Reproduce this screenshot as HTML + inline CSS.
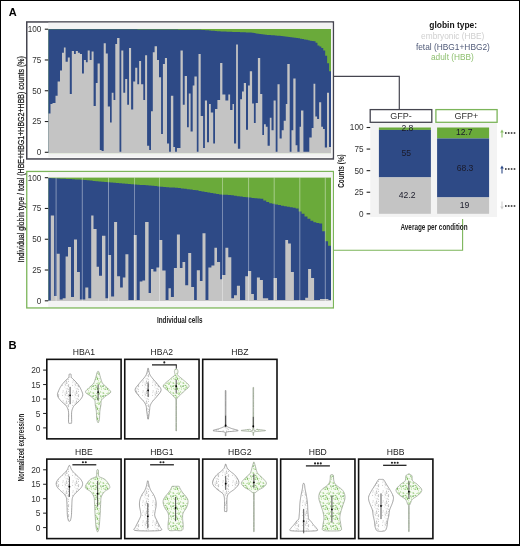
<!DOCTYPE html>
<html><head><meta charset="utf-8"><style>
html,body{margin:0;padding:0;background:#fff;}
body{width:520px;height:546px;overflow:hidden;position:relative;}
svg{position:absolute;left:0;top:0;font-family:"Liberation Sans",sans-serif;-webkit-font-smoothing:antialiased;will-change:transform;filter:blur(0.35px);}
.bd{position:absolute;left:0;top:0;width:520px;height:546px;box-sizing:border-box;border-style:solid;border-color:#000;border-width:1.3px 1.8px 2px 1.2px;pointer-events:none;}
</style></head><body>
<svg width="520" height="546" viewBox="0 0 520 546">
<defs><pattern id="pg" width="10" height="10" patternUnits="userSpaceOnUse"><circle cx="2.6" cy="5.4" r="0.55" fill="#d0d0d0"/><circle cx="8.7" cy="4.8" r="0.55" fill="#b0b0b0"/><circle cx="6.0" cy="8.7" r="0.55" fill="#d8d8d8"/><circle cx="2.8" cy="2.6" r="0.55" fill="#d8d8d8"/><circle cx="5.4" cy="5.4" r="0.55" fill="#d8d8d8"/><circle cx="6.3" cy="1.9" r="0.55" fill="#c4c4c4"/><circle cx="8.3" cy="5.2" r="0.55" fill="#b0b0b0"/><circle cx="6.5" cy="1.1" r="0.55" fill="#b0b0b0"/><circle cx="3.2" cy="0.8" r="0.55" fill="#d0d0d0"/><circle cx="4.8" cy="7.0" r="0.55" fill="#d8d8d8"/><circle cx="6.9" cy="8.8" r="0.55" fill="#d8d8d8"/><circle cx="7.1" cy="5.7" r="0.55" fill="#c4c4c4"/><circle cx="8.4" cy="1.4" r="0.55" fill="#c4c4c4"/><circle cx="5.0" cy="2.8" r="0.55" fill="#d8d8d8"/><circle cx="7.5" cy="8.2" r="0.55" fill="#d8d8d8"/><circle cx="5.1" cy="4.0" r="0.55" fill="#d0d0d0"/><circle cx="5.3" cy="4.2" r="0.55" fill="#c4c4c4"/><circle cx="8.6" cy="6.6" r="0.55" fill="#b0b0b0"/><circle cx="8.2" cy="9.4" r="0.55" fill="#c4c4c4"/><circle cx="6.8" cy="3.4" r="0.55" fill="#b0b0b0"/><circle cx="6.9" cy="2.4" r="0.55" fill="#d0d0d0"/><circle cx="3.1" cy="1.1" r="0.55" fill="#d8d8d8"/></pattern><pattern id="pn" width="10" height="10" patternUnits="userSpaceOnUse"><circle cx="1.3" cy="7.7" r="0.55" fill="#a8d68c"/><circle cx="8.6" cy="0.7" r="0.55" fill="#a8d68c"/><circle cx="7.4" cy="8.4" r="0.55" fill="#6cb548"/><circle cx="5.9" cy="7.4" r="0.55" fill="#a8d68c"/><circle cx="7.0" cy="3.5" r="0.55" fill="#8cc86a"/><circle cx="5.0" cy="9.5" r="0.55" fill="#8cc86a"/><circle cx="0.6" cy="1.5" r="0.55" fill="#b5dd9c"/><circle cx="0.8" cy="2.3" r="0.55" fill="#a8d68c"/><circle cx="3.1" cy="2.9" r="0.55" fill="#6cb548"/><circle cx="9.3" cy="3.6" r="0.55" fill="#8cc86a"/><circle cx="9.1" cy="8.6" r="0.55" fill="#a8d68c"/><circle cx="3.9" cy="8.3" r="0.55" fill="#a8d68c"/><circle cx="6.3" cy="5.9" r="0.55" fill="#b5dd9c"/><circle cx="1.4" cy="9.3" r="0.55" fill="#b5dd9c"/><circle cx="2.9" cy="6.2" r="0.55" fill="#4d9a35"/><circle cx="8.9" cy="4.4" r="0.55" fill="#8cc86a"/><circle cx="5.2" cy="5.4" r="0.55" fill="#6cb548"/><circle cx="7.6" cy="9.4" r="0.55" fill="#8cc86a"/><circle cx="0.7" cy="6.0" r="0.55" fill="#4d9a35"/><circle cx="1.0" cy="6.1" r="0.55" fill="#a8d68c"/><circle cx="3.7" cy="8.8" r="0.55" fill="#b5dd9c"/><circle cx="6.9" cy="7.1" r="0.55" fill="#6cb548"/><circle cx="5.8" cy="9.1" r="0.55" fill="#6cb548"/><circle cx="9.2" cy="2.8" r="0.55" fill="#a8d68c"/><circle cx="3.2" cy="5.9" r="0.55" fill="#4d9a35"/><circle cx="3.8" cy="3.3" r="0.55" fill="#8cc86a"/><circle cx="8.1" cy="2.9" r="0.55" fill="#a8d68c"/><circle cx="1.4" cy="7.8" r="0.55" fill="#b5dd9c"/></pattern></defs>
<text x="8.8" y="15.8" font-size="11" text-anchor="start" fill="#000" font-weight="bold" >A</text>
<rect x="26.75" y="21.95" width="306.6" height="137" fill="#fff" stroke="#45454f" stroke-width="1.5"/>
<rect x="48.3" y="22.7" width="284.2" height="134.8" fill="#f3f3f3"/>
<rect x="48.4" y="29.0" width="282.60" height="124.10" fill="#6aaa3a"/>
<polygon points="48.4,153.1 48.40,29.20 50.34,29.20 50.34,29.21 52.27,29.21 52.27,29.21 54.21,29.21 54.21,29.21 56.14,29.21 56.14,29.22 58.08,29.22 58.08,29.22 60.01,29.22 60.01,29.22 61.95,29.22 61.95,29.23 63.88,29.23 63.88,29.23 65.82,29.23 65.82,29.24 67.76,29.24 67.76,29.24 69.69,29.24 69.69,29.24 71.63,29.24 71.63,29.25 73.56,29.25 73.56,29.25 75.50,29.25 75.50,29.26 77.43,29.26 77.43,29.26 79.37,29.26 79.37,29.26 81.31,29.26 81.31,29.27 83.24,29.27 83.24,29.27 85.18,29.27 85.18,29.27 87.11,29.27 87.11,29.28 89.05,29.28 89.05,29.28 90.98,29.28 90.98,29.29 92.92,29.29 92.92,29.29 94.85,29.29 94.85,29.29 96.79,29.29 96.79,29.30 98.73,29.30 98.73,29.30 100.66,29.30 100.66,29.30 102.60,29.30 102.60,29.31 104.53,29.31 104.53,29.31 106.47,29.31 106.47,29.32 108.40,29.32 108.40,29.32 110.34,29.32 110.34,29.32 112.28,29.32 112.28,29.33 114.21,29.33 114.21,29.33 116.15,29.33 116.15,29.34 118.08,29.34 118.08,29.34 120.02,29.34 120.02,29.34 121.95,29.34 121.95,29.35 123.89,29.35 123.89,29.35 125.82,29.35 125.82,29.35 127.76,29.35 127.76,29.36 129.70,29.36 129.70,29.36 131.63,29.36 131.63,29.37 133.57,29.37 133.57,29.37 135.50,29.37 135.50,29.37 137.44,29.37 137.44,29.38 139.37,29.38 139.37,29.38 141.31,29.38 141.31,29.38 143.25,29.38 143.25,29.39 145.18,29.39 145.18,29.39 147.12,29.39 147.12,29.40 149.05,29.40 149.05,29.40 150.99,29.40 150.99,29.42 152.92,29.42 152.92,29.43 154.86,29.43 154.86,29.45 156.79,29.45 156.79,29.46 158.73,29.46 158.73,29.48 160.67,29.48 160.67,29.49 162.60,29.49 162.60,29.51 164.54,29.51 164.54,29.52 166.47,29.52 166.47,29.54 168.41,29.54 168.41,29.56 170.34,29.56 170.34,29.57 172.28,29.57 172.28,29.59 174.22,29.59 174.22,29.60 176.15,29.60 176.15,29.62 178.09,29.62 178.09,29.63 180.02,29.63 180.02,29.65 181.96,29.65 181.96,29.66 183.89,29.66 183.89,29.68 185.83,29.68 185.83,29.69 187.76,29.69 187.76,29.71 189.70,29.71 189.70,29.73 191.64,29.73 191.64,29.74 193.57,29.74 193.57,29.76 195.51,29.76 195.51,29.77 197.44,29.77 197.44,29.79 199.38,29.79 199.38,29.82 201.31,29.82 201.31,29.93 203.25,29.93 203.25,30.04 205.18,30.04 205.18,30.15 207.12,30.15 207.12,30.30 209.06,30.30 209.06,30.48 210.99,30.48 210.99,30.66 212.93,30.66 212.93,30.84 214.86,30.84 214.86,31.02 216.80,31.02 216.80,31.19 218.73,31.19 218.73,31.37 220.67,31.37 220.67,31.46 222.61,31.46 222.61,31.53 224.54,31.53 224.54,31.60 226.48,31.60 226.48,31.67 228.41,31.67 228.41,31.74 230.35,31.74 230.35,31.81 232.28,31.81 232.28,31.89 234.22,31.89 234.22,31.96 236.15,31.96 236.15,32.03 238.09,32.03 238.09,32.10 240.03,32.10 240.03,32.17 241.96,32.17 241.96,32.24 243.90,32.24 243.90,32.31 245.83,32.31 245.83,32.38 247.77,32.38 247.77,32.45 249.70,32.45 249.70,32.59 251.64,32.59 251.64,32.86 253.58,32.86 253.58,33.12 255.51,33.12 255.51,33.38 257.45,33.38 257.45,33.65 259.38,33.65 259.38,33.91 261.32,33.91 261.32,34.18 263.25,34.18 263.25,34.44 265.19,34.44 265.19,34.70 267.12,34.70 267.12,34.94 269.06,34.94 269.06,35.07 271.00,35.07 271.00,35.21 272.93,35.21 272.93,35.35 274.87,35.35 274.87,35.49 276.80,35.49 276.80,35.68 278.74,35.68 278.74,35.87 280.67,35.87 280.67,36.06 282.61,36.06 282.61,36.26 284.55,36.26 284.55,36.45 286.48,36.45 286.48,36.64 288.42,36.64 288.42,36.91 290.35,36.91 290.35,37.20 292.29,37.20 292.29,37.49 294.22,37.49 294.22,37.78 296.16,37.78 296.16,38.07 298.09,38.07 298.09,38.36 300.03,38.36 300.03,38.70 301.97,38.70 301.97,39.09 303.90,39.09 303.90,39.47 305.84,39.47 305.84,39.86 307.77,39.86 307.77,40.25 309.71,40.25 309.71,40.64 311.64,40.64 311.64,40.99 313.58,40.99 313.58,41.28 315.52,41.28 315.52,42.63 317.45,42.63 317.45,45.49 319.39,45.49 319.39,46.51 321.32,46.51 321.32,47.91 323.26,47.91 323.26,50.44 325.19,50.44 325.19,55.72 327.13,55.72 327.13,63.29 329.06,63.29 329.06,71.35 331.00,71.35 331.0,153.1" fill="#2e4a86"/>
<polygon points="48.4,153.1 48.40,113.60 50.50,113.60 50.50,104.10 52.50,104.10 52.50,102.90 55.50,102.90 55.50,95.80 57.60,95.80 57.60,81.40 60.00,81.40 60.00,70.60 62.00,70.60 62.00,52.80 63.90,52.80 63.90,47.40 65.60,47.40 65.60,61.70 67.80,61.70 67.80,57.50 69.80,57.50 69.80,94.00 71.80,94.00 71.80,51.00 74.00,51.00 74.00,54.00 75.80,54.00 75.80,51.00 77.90,51.00 77.90,52.80 79.90,52.80 79.90,54.00 82.00,54.00 82.00,73.60 83.90,73.60 83.90,59.90 85.90,59.90 85.90,62.30 87.70,62.30 87.70,50.40 89.70,50.40 89.70,59.90 91.60,59.90 91.60,51.60 93.60,51.60 93.60,105.90 95.80,105.90 95.80,83.10 97.60,83.10 97.60,63.50 99.80,63.50 99.80,150.00 101.60,150.00 101.60,151.00 103.70,151.00 103.70,43.30 105.80,43.30 105.80,53.40 107.80,53.40 107.80,106.50 110.00,106.50 110.00,122.50 111.70,122.50 111.70,92.80 113.50,92.80 113.50,99.90 115.30,99.90 115.30,43.90 117.10,43.90 117.10,37.90 119.50,37.90 119.50,151.70 121.30,151.70 121.30,50.40 123.30,50.40 123.30,92.80 125.20,92.80 125.20,79.00 127.20,79.00 127.20,104.70 129.00,104.70 129.00,48.00 131.10,48.00 131.10,109.50 133.20,109.50 133.20,81.40 135.20,81.40 135.20,67.70 137.30,67.70 137.30,84.30 139.10,84.30 139.10,61.10 141.10,61.10 141.10,84.30 143.30,84.30 143.30,99.90 145.10,99.90 145.10,55.20 147.10,55.20 147.10,145.80 149.20,145.80 149.20,149.90 151.00,149.90 151.00,111.20 152.80,111.20 152.80,52.20 154.60,52.20 154.60,46.20 157.00,46.20 157.00,59.90 159.00,59.90 159.00,77.20 161.10,77.20 161.10,133.90 162.90,133.90 162.90,64.10 164.90,64.10 164.90,58.10 167.00,58.10 167.00,143.40 169.10,143.40 169.10,151.70 170.90,151.70 170.90,95.80 173.30,95.80 173.30,147.00 175.10,147.00 175.10,151.70 176.90,151.70 176.90,148.00 178.70,148.00 178.70,148.00 180.50,148.00 180.50,50.40 182.80,50.40 182.80,104.70 184.70,104.70 184.70,76.00 187.00,76.00 187.00,127.30 188.80,127.30 188.80,93.40 190.60,93.40 190.60,131.50 192.70,131.50 192.70,85.50 194.40,85.50 194.40,76.60 196.80,76.60 196.80,151.70 198.50,151.70 198.50,54.00 200.70,54.00 200.70,116.00 203.10,116.00 203.10,148.10 204.90,148.10 204.90,100.50 207.00,100.50 207.00,142.20 209.00,142.20 209.00,104.10 210.80,104.10 210.80,112.40 213.20,112.40 213.20,143.40 215.00,143.40 215.00,108.90 217.40,108.90 217.40,100.00 220.10,100.00 220.10,62.90 222.40,62.90 222.40,94.60 225.40,94.60 225.40,100.50 228.30,100.50 228.30,94.60 230.10,94.60 230.10,110.00 232.50,110.00 232.50,104.10 234.00,104.10 234.00,143.40 236.10,143.40 236.10,44.50 237.90,44.50 237.90,148.70 240.20,148.70 240.20,99.30 242.00,99.30 242.00,91.60 243.80,91.60 243.80,83.10 246.00,83.10 246.00,129.70 248.00,129.70 248.00,85.50 249.80,85.50 249.80,71.20 252.10,71.20 252.10,103.50 253.90,103.50 253.90,123.10 255.70,123.10 255.70,102.90 257.90,102.90 257.90,58.10 260.20,58.10 260.20,94.00 262.30,94.00 262.30,135.00 264.00,135.00 264.00,124.30 265.80,124.30 265.80,126.70 267.60,126.70 267.60,145.80 269.80,145.80 269.80,117.80 271.50,117.80 271.50,130.30 273.60,130.30 273.60,100.50 275.70,100.50 275.70,151.70 277.50,151.70 277.50,84.30 279.60,84.30 279.60,138.60 281.70,138.60 281.70,130.30 283.70,130.30 283.70,120.80 285.80,120.80 285.80,104.10 287.30,104.10 287.30,64.10 289.70,64.10 289.70,151.70 291.50,151.70 291.50,130.30 293.30,130.30 293.30,78.40 295.60,78.40 295.60,145.20 297.40,145.20 297.40,151.70 299.60,151.70 299.60,126.70 301.00,126.70 301.00,110.60 303.40,110.60 303.40,151.70 309.30,151.70 309.30,137.40 311.70,137.40 311.70,127.90 313.50,127.90 313.50,83.70 315.30,83.70 315.30,116.60 317.10,116.60 317.10,119.00 319.10,119.00 319.10,102.30 321.20,102.30 321.20,126.70 323.00,126.70 323.00,129.10 324.80,129.10 324.80,147.50 327.00,147.50 327.00,92.80 329.00,92.80 329.00,147.00 331.00,147.00 331.0,153.1" fill="#c4c4c4"/>
<rect x="26.75" y="171.45" width="306.6" height="136.5" fill="#fff" stroke="#7cb55a" stroke-width="1.3"/>
<rect x="48.3" y="172.2" width="284.2" height="134.8" fill="#f3f3f3"/>
<rect x="48.4" y="177.6" width="282.60" height="123.40" fill="#6aaa3a"/>
<polygon points="48.4,301.0 48.40,178.07 51.34,178.07 51.34,178.22 54.29,178.22 54.29,178.37 57.23,178.37 57.23,178.52 60.18,178.52 60.17,178.67 63.12,178.67 63.12,178.82 66.06,178.82 66.06,178.97 69.01,178.97 69.01,179.12 71.95,179.12 71.95,179.27 74.89,179.27 74.89,179.42 77.84,179.42 77.84,179.57 80.78,179.57 80.78,179.73 83.72,179.73 83.72,180.02 86.67,180.02 86.67,180.31 89.61,180.31 89.61,180.61 92.56,180.61 92.56,180.90 95.50,180.90 95.50,181.20 98.44,181.20 98.44,181.49 101.39,181.49 101.39,181.79 104.33,181.79 104.33,182.08 107.27,182.08 107.28,182.32 110.22,182.32 110.22,182.57 113.16,182.57 113.16,182.81 116.11,182.81 116.11,183.05 119.05,183.05 119.05,183.29 121.99,183.29 121.99,183.53 124.94,183.53 124.94,183.77 127.88,183.77 127.88,184.00 130.82,184.00 130.82,184.22 133.77,184.22 133.77,184.44 136.71,184.44 136.71,184.66 139.66,184.66 139.66,184.88 142.60,184.88 142.60,185.11 145.54,185.11 145.54,185.33 148.49,185.33 148.49,185.55 151.43,185.55 151.43,185.79 154.38,185.79 154.38,186.08 157.32,186.08 157.32,186.38 160.26,186.38 160.26,186.67 163.21,186.67 163.21,186.95 166.15,186.95 166.15,187.17 169.09,187.17 169.09,187.39 172.04,187.39 172.04,187.61 174.98,187.61 174.98,187.83 177.92,187.83 177.93,188.05 180.87,188.05 180.87,188.41 183.81,188.41 183.81,188.80 186.76,188.80 186.76,189.20 189.70,189.20 189.70,189.59 192.64,189.59 192.64,189.98 195.59,189.98 195.59,190.37 198.53,190.37 198.53,190.88 201.47,190.88 201.48,191.45 204.42,191.45 204.42,192.01 207.36,192.01 207.36,192.58 210.31,192.58 210.31,193.07 213.25,193.07 213.25,193.51 216.19,193.51 216.19,193.95 219.14,193.95 219.14,194.39 222.08,194.39 222.08,194.69 225.03,194.69 225.03,194.87 227.97,194.87 227.97,195.05 230.91,195.05 230.91,195.26 233.86,195.26 233.86,195.70 236.80,195.70 236.80,196.14 239.74,196.14 239.74,196.58 242.69,196.58 242.69,197.02 245.63,197.02 245.63,197.31 248.58,197.31 248.58,197.60 251.52,197.60 251.52,197.90 254.46,197.90 254.46,198.19 257.41,198.19 257.41,198.49 260.35,198.49 260.35,198.78 263.29,198.78 263.29,200.46 266.24,200.46 266.24,201.90 269.18,201.90 269.18,203.14 272.12,203.14 272.12,203.79 275.07,203.79 275.07,204.45 278.01,204.45 278.01,205.11 280.96,205.11 280.96,205.77 283.90,205.77 283.90,206.31 286.84,206.31 286.84,206.81 289.79,206.81 289.79,207.32 292.73,207.32 292.73,207.82 295.68,207.82 295.68,208.45 298.62,208.45 298.62,211.38 301.56,211.38 301.56,213.83 304.51,213.83 304.51,216.40 307.45,216.40 307.45,218.65 310.39,218.65 310.39,220.71 313.34,220.71 313.34,222.24 316.28,222.24 316.28,223.02 319.23,223.02 319.22,223.56 322.17,223.56 322.17,231.14 325.11,231.14 325.11,241.25 328.06,241.25 328.06,245.66 331.00,245.66 331.0,301.0" fill="#2e4a86"/>
<polygon points="48.4,301.0 48.40,300.50 50.80,300.50 50.80,215.50 54.10,215.50 54.10,295.90 56.70,295.90 56.70,253.70 59.70,253.70 59.70,299.50 62.70,299.50 62.70,298.30 65.60,298.30 65.60,256.60 68.00,256.60 68.00,247.10 71.00,247.10 71.00,297.10 74.00,297.10 74.00,239.40 77.00,239.40 77.00,272.10 79.90,272.10 79.90,299.50 82.30,299.50 82.30,299.50 85.30,299.50 85.30,287.60 88.30,287.60 88.30,298.30 91.20,298.30 91.20,215.50 93.50,215.50 93.50,229.10 96.60,229.10 96.60,266.80 99.00,266.80 99.00,275.70 102.00,275.70 102.00,235.80 105.40,235.80 105.40,298.30 108.20,298.30 108.20,254.90 111.10,254.90 111.10,296.50 114.10,296.50 114.10,222.00 117.10,222.00 117.10,276.30 120.10,276.30 120.10,287.60 122.80,287.60 122.80,277.50 125.40,277.50 125.40,254.30 128.40,254.30 128.40,300.00 133.80,300.00 133.80,235.00 136.70,235.00 136.70,300.00 139.70,300.00 139.70,281.60 142.40,281.60 142.40,280.40 145.10,280.40 145.10,222.00 148.60,222.00 148.60,293.00 151.00,293.00 151.00,269.10 153.40,269.10 153.40,271.50 156.40,271.50 156.40,267.40 159.40,267.40 159.40,240.00 162.30,240.00 162.30,270.50 165.60,270.50 165.60,300.00 168.50,300.00 168.50,288.20 170.90,288.20 170.90,297.10 173.90,297.10 173.90,268.00 176.90,268.00 176.90,234.50 179.90,234.50 179.90,268.00 182.50,268.00 182.50,262.00 185.20,262.00 185.20,285.20 188.20,285.20 188.20,253.10 191.20,253.10 191.20,287.00 194.10,287.00 194.10,300.00 196.80,300.00 196.80,270.30 199.90,270.30 199.90,281.00 202.50,281.00 202.50,233.30 205.50,233.30 205.50,300.00 208.40,300.00 208.40,267.40 211.40,267.40 211.40,265.60 214.40,265.60 214.40,247.70 217.00,247.70 217.00,262.00 220.10,262.00 220.10,279.30 222.10,279.30 222.10,275.10 225.40,275.10 225.40,247.70 228.30,247.70 228.30,257.20 231.30,257.20 231.30,298.30 234.00,298.30 234.00,295.30 236.90,295.30 236.90,285.80 240.00,285.80 240.00,300.00 245.20,300.00 245.20,276.30 248.00,276.30 248.00,270.90 251.20,270.90 251.20,294.10 253.90,294.10 253.90,300.00 256.90,300.00 256.90,277.50 259.90,277.50 259.90,279.90 262.90,279.90 262.90,298.30 265.80,298.30 265.80,298.30 268.20,298.30 268.20,300.00 273.60,300.00 273.60,278.10 277.00,278.10 277.00,300.00 285.30,300.00 285.30,240.00 288.10,240.00 288.10,243.50 290.90,243.50 290.90,272.10 293.90,272.10 293.90,300.00 305.20,300.00 305.20,297.70 308.10,297.70 308.10,269.10 311.10,269.10 311.10,278.00 314.10,278.00 314.10,300.00 320.00,300.00 320.00,298.90 323.00,298.90 323.00,298.90 326.00,298.90 326.00,298.90 328.40,298.90 328.40,300.00 331.00,300.00 331.0,301.0" fill="#c4c4c4"/>
<line x1="56.1" y1="177.6" x2="56.1" y2="301.0" stroke="#fff" stroke-width="0.8" opacity="0.5"/>
<line x1="82.3" y1="177.6" x2="82.3" y2="301.0" stroke="#fff" stroke-width="0.8" opacity="0.5"/>
<line x1="108.5" y1="177.6" x2="108.5" y2="301.0" stroke="#fff" stroke-width="0.8" opacity="0.5"/>
<line x1="134.4" y1="177.6" x2="134.4" y2="301.0" stroke="#fff" stroke-width="0.8" opacity="0.5"/>
<line x1="159.4" y1="177.6" x2="159.4" y2="301.0" stroke="#fff" stroke-width="0.8" opacity="0.5"/>
<line x1="222.4" y1="177.6" x2="222.4" y2="301.0" stroke="#fff" stroke-width="0.8" opacity="0.5"/>
<line x1="248.6" y1="177.6" x2="248.6" y2="301.0" stroke="#fff" stroke-width="0.8" opacity="0.5"/>
<line x1="274.2" y1="177.6" x2="274.2" y2="301.0" stroke="#fff" stroke-width="0.8" opacity="0.5"/>
<line x1="299.8" y1="177.6" x2="299.8" y2="301.0" stroke="#fff" stroke-width="0.8" opacity="0.5"/>
<line x1="325.3" y1="177.6" x2="325.3" y2="301.0" stroke="#fff" stroke-width="0.8" opacity="0.5"/>
<text x="41.3" y="155.20000000000002" font-size="8.2" text-anchor="end" fill="#333" font-weight="normal" >0</text>
<line x1="44.8" y1="152.30" x2="48.2" y2="152.30" stroke="#222" stroke-width="1.1"/>
<text x="41.3" y="124.42500000000001" font-size="8.2" text-anchor="end" fill="#333" font-weight="normal" >25</text>
<line x1="44.8" y1="121.53" x2="48.2" y2="121.53" stroke="#222" stroke-width="1.1"/>
<text x="41.3" y="93.65" font-size="8.2" text-anchor="end" fill="#333" font-weight="normal" >50</text>
<line x1="44.8" y1="90.75" x2="48.2" y2="90.75" stroke="#222" stroke-width="1.1"/>
<text x="41.3" y="62.87500000000001" font-size="8.2" text-anchor="end" fill="#333" font-weight="normal" >75</text>
<line x1="44.8" y1="59.98" x2="48.2" y2="59.98" stroke="#222" stroke-width="1.1"/>
<text x="41.3" y="32.1" font-size="8.2" text-anchor="end" fill="#333" font-weight="normal" >100</text>
<line x1="44.8" y1="29.20" x2="48.2" y2="29.20" stroke="#222" stroke-width="1.1"/>
<text x="41.3" y="303.7" font-size="8.2" text-anchor="end" fill="#333" font-weight="normal" >0</text>
<line x1="44.8" y1="300.80" x2="48.2" y2="300.80" stroke="#222" stroke-width="1.1"/>
<text x="41.3" y="272.92499999999995" font-size="8.2" text-anchor="end" fill="#333" font-weight="normal" >25</text>
<line x1="44.8" y1="270.02" x2="48.2" y2="270.02" stroke="#222" stroke-width="1.1"/>
<text x="41.3" y="242.15" font-size="8.2" text-anchor="end" fill="#333" font-weight="normal" >50</text>
<line x1="44.8" y1="239.25" x2="48.2" y2="239.25" stroke="#222" stroke-width="1.1"/>
<text x="41.3" y="211.375" font-size="8.2" text-anchor="end" fill="#333" font-weight="normal" >75</text>
<line x1="44.8" y1="208.47" x2="48.2" y2="208.47" stroke="#222" stroke-width="1.1"/>
<text x="41.3" y="180.6" font-size="8.2" text-anchor="end" fill="#333" font-weight="normal" >100</text>
<line x1="44.8" y1="177.70" x2="48.2" y2="177.70" stroke="#222" stroke-width="1.1"/>
<text transform="translate(23.5,159.3) rotate(-90) scale(0.80,1)" font-size="8.8" text-anchor="middle" fill="#1a1a1a" stroke="#1a1a1a" stroke-width="0.25">Individual globin type / total (HBE+HBG1+HBG2+HBB) counts (%)</text>
<text transform="translate(179.7,322.9) scale(0.69,1)" font-size="9.2" text-anchor="middle" fill="#222" font-weight="bold" >Individual cells</text>
<polyline points="333.5,76.3 399.3,76.3 399.3,109.5" fill="none" stroke="#45454f" stroke-width="1.2"/>
<polyline points="333.5,250.3 462.6,250.3 462.6,219" fill="none" stroke="#7cb55a" stroke-width="1.1"/>
<text x="453.2" y="28.4" font-size="8.45" text-anchor="middle" fill="#111" font-weight="bold" >globin type:</text>
<text x="452.7" y="39.1" font-size="8.3" text-anchor="middle" fill="#cfcfcf" font-weight="normal" >embryonic (HBE)</text>
<text x="452.9" y="49.7" font-size="8.35" text-anchor="middle" fill="#505a78" font-weight="normal" >fetal (HBG1+HBG2)</text>
<text x="452.4" y="60.1" font-size="8.3" text-anchor="middle" fill="#8fc070" font-weight="normal" >adult (HBB)</text>
<rect x="370.3" y="123" width="126.7" height="94" fill="#f3f3f3"/>
<rect x="370.2" y="109.6" width="61.6" height="12.7" fill="#fff" stroke="#45454f" stroke-width="1.3"/>
<rect x="435.9" y="109.6" width="61.2" height="12.7" fill="#fff" stroke="#7cb55a" stroke-width="1.3"/>
<text x="401" y="119.3" font-size="9" text-anchor="middle" fill="#333" font-weight="normal" >GFP-</text>
<text x="466.5" y="119.3" font-size="9" text-anchor="middle" fill="#333" font-weight="normal" >GFP+</text>
<rect x="378.9" y="127.50" width="52" height="2.42" fill="#6aaa3a"/>
<rect x="378.9" y="129.92" width="52" height="47.47" fill="#2e4a86"/>
<rect x="378.9" y="177.38" width="52" height="36.42" fill="#c4c4c4"/>
<rect x="437.1" y="127.50" width="52" height="10.96" fill="#6aaa3a"/>
<rect x="437.1" y="138.46" width="52" height="58.94" fill="#2e4a86"/>
<rect x="437.1" y="197.40" width="52" height="16.40" fill="#c4c4c4"/>
<text x="407.4" y="130.8" font-size="8.6" text-anchor="middle" fill="#1a1a2a" font-weight="normal" >2.8</text>
<text x="406.3" y="156.2" font-size="8.6" text-anchor="middle" fill="#1a1a2a" font-weight="normal" >55</text>
<text x="407.2" y="198.4" font-size="8.6" text-anchor="middle" fill="#1a1a2a" font-weight="normal" >42.2</text>
<text x="464.3" y="135.2" font-size="8.6" text-anchor="middle" fill="#1a1a2a" font-weight="normal" >12.7</text>
<text x="465" y="170.5" font-size="8.6" text-anchor="middle" fill="#1a1a2a" font-weight="normal" >68.3</text>
<text x="464.5" y="208.4" font-size="8.6" text-anchor="middle" fill="#1a1a2a" font-weight="normal" >19</text>
<text x="363.5" y="216.70000000000002" font-size="8.2" text-anchor="end" fill="#333" font-weight="normal" >0</text>
<line x1="366.6" y1="213.80" x2="370.2" y2="213.80" stroke="#222" stroke-width="1.1"/>
<text x="363.5" y="195.12500000000003" font-size="8.2" text-anchor="end" fill="#333" font-weight="normal" >25</text>
<line x1="366.6" y1="192.23" x2="370.2" y2="192.23" stroke="#222" stroke-width="1.1"/>
<text x="363.5" y="173.55" font-size="8.2" text-anchor="end" fill="#333" font-weight="normal" >50</text>
<line x1="366.6" y1="170.65" x2="370.2" y2="170.65" stroke="#222" stroke-width="1.1"/>
<text x="363.5" y="151.975" font-size="8.2" text-anchor="end" fill="#333" font-weight="normal" >75</text>
<line x1="366.6" y1="149.07" x2="370.2" y2="149.07" stroke="#222" stroke-width="1.1"/>
<text x="363.5" y="130.4" font-size="8.2" text-anchor="end" fill="#333" font-weight="normal" >100</text>
<line x1="366.6" y1="127.50" x2="370.2" y2="127.50" stroke="#222" stroke-width="1.1"/>
<text transform="translate(344,171) rotate(-90) scale(0.72,1)" font-size="8.8" font-weight="bold" text-anchor="middle" fill="#222">Counts (%)</text>
<text transform="translate(434,230.4) scale(0.71,1)" font-size="9" text-anchor="middle" fill="#222" font-weight="bold" >Average per condition</text>
<path d="M502,137.5 L502,131.5" stroke="#8cbf6a" stroke-width="1.1"/><path d="M500.2,132.5 L502,129.5 L503.8,132.5Z" fill="#8cbf6a"/>
<line x1="505" y1="133" x2="516.5" y2="133" stroke="#222" stroke-width="1.3" stroke-dasharray="1.6,1.3"/>
<path d="M502,173.5 L502,167.5" stroke="#2e4a86" stroke-width="1.1"/><path d="M500.2,168.5 L502,165.5 L503.8,168.5Z" fill="#2e4a86"/>
<line x1="505" y1="169" x2="516.5" y2="169" stroke="#222" stroke-width="1.3" stroke-dasharray="1.6,1.3"/>
<path d="M502,201.5 L502,207.5" stroke="#cfcfcf" stroke-width="1.1"/><path d="M500.2,206.5 L502,209.5 L503.8,206.5Z" fill="#cfcfcf"/>
<line x1="505" y1="206" x2="516.5" y2="206" stroke="#222" stroke-width="1.3" stroke-dasharray="1.6,1.3"/>
<text x="8.4" y="348.9" font-size="11.2" text-anchor="start" fill="#000" font-weight="bold" >B</text>
<rect x="46.80" y="359.35" width="74.3" height="79.50" fill="#fff" stroke="#111" stroke-width="1.6"/>
<text x="83.9" y="355.1" font-size="8.6" text-anchor="middle" fill="#222" font-weight="normal" >HBA1</text>
<rect x="124.75" y="359.35" width="74.3" height="79.50" fill="#fff" stroke="#111" stroke-width="1.6"/>
<text x="161.85" y="355.1" font-size="8.6" text-anchor="middle" fill="#222" font-weight="normal" >HBA2</text>
<rect x="202.70" y="359.35" width="74.3" height="79.50" fill="#fff" stroke="#111" stroke-width="1.6"/>
<text x="239.8" y="355.1" font-size="8.6" text-anchor="middle" fill="#222" font-weight="normal" >HBZ</text>
<rect x="46.80" y="459.1" width="74.3" height="79.50" fill="#fff" stroke="#111" stroke-width="1.6"/>
<text x="83.9" y="455.2" font-size="8.6" text-anchor="middle" fill="#222" font-weight="normal" >HBE</text>
<rect x="124.75" y="459.1" width="74.3" height="79.50" fill="#fff" stroke="#111" stroke-width="1.6"/>
<text x="161.85" y="455.2" font-size="8.6" text-anchor="middle" fill="#222" font-weight="normal" >HBG1</text>
<rect x="202.70" y="459.1" width="74.3" height="79.50" fill="#fff" stroke="#111" stroke-width="1.6"/>
<text x="239.8" y="455.2" font-size="8.6" text-anchor="middle" fill="#222" font-weight="normal" >HBG2</text>
<rect x="280.65" y="459.1" width="74.3" height="79.50" fill="#fff" stroke="#111" stroke-width="1.6"/>
<text x="317.75" y="455.2" font-size="8.6" text-anchor="middle" fill="#222" font-weight="normal" >HBD</text>
<rect x="358.60" y="459.1" width="74.3" height="79.50" fill="#fff" stroke="#111" stroke-width="1.6"/>
<text x="395.7" y="455.2" font-size="8.6" text-anchor="middle" fill="#222" font-weight="normal" >HBB</text>
<text x="40.5" y="431.0" font-size="8.4" text-anchor="end" fill="#333" font-weight="normal" >0</text>
<line x1="43.1" y1="427.90" x2="46.2" y2="427.90" stroke="#222" stroke-width="1"/>
<text x="40.5" y="416.55" font-size="8.4" text-anchor="end" fill="#333" font-weight="normal" >5</text>
<line x1="43.1" y1="413.45" x2="46.2" y2="413.45" stroke="#222" stroke-width="1"/>
<text x="40.5" y="402.1" font-size="8.4" text-anchor="end" fill="#333" font-weight="normal" >10</text>
<line x1="43.1" y1="399.00" x2="46.2" y2="399.00" stroke="#222" stroke-width="1"/>
<text x="40.5" y="387.65" font-size="8.4" text-anchor="end" fill="#333" font-weight="normal" >15</text>
<line x1="43.1" y1="384.55" x2="46.2" y2="384.55" stroke="#222" stroke-width="1"/>
<text x="40.5" y="373.2" font-size="8.4" text-anchor="end" fill="#333" font-weight="normal" >20</text>
<line x1="43.1" y1="370.10" x2="46.2" y2="370.10" stroke="#222" stroke-width="1"/>
<text x="40.5" y="530.7" font-size="8.4" text-anchor="end" fill="#333" font-weight="normal" >0</text>
<line x1="43.1" y1="527.60" x2="46.2" y2="527.60" stroke="#222" stroke-width="1"/>
<text x="40.5" y="516.25" font-size="8.4" text-anchor="end" fill="#333" font-weight="normal" >5</text>
<line x1="43.1" y1="513.15" x2="46.2" y2="513.15" stroke="#222" stroke-width="1"/>
<text x="40.5" y="501.80000000000007" font-size="8.4" text-anchor="end" fill="#333" font-weight="normal" >10</text>
<line x1="43.1" y1="498.70" x2="46.2" y2="498.70" stroke="#222" stroke-width="1"/>
<text x="40.5" y="487.35" font-size="8.4" text-anchor="end" fill="#333" font-weight="normal" >15</text>
<line x1="43.1" y1="484.25" x2="46.2" y2="484.25" stroke="#222" stroke-width="1"/>
<text x="40.5" y="472.90000000000003" font-size="8.4" text-anchor="end" fill="#333" font-weight="normal" >20</text>
<line x1="43.1" y1="469.80" x2="46.2" y2="469.80" stroke="#222" stroke-width="1"/>
<text transform="translate(24.2,447.6) rotate(-90) scale(0.705,1)" font-size="8.8" font-weight="bold" text-anchor="middle" fill="#222">Normalized expression</text>
<clipPath id="cHBA1g"><path d="M70.40,374.00 L70.48,374.02 L70.60,374.03 L70.74,374.05 L70.88,374.11 L71.00,374.25 L71.10,374.50 L71.15,374.91 L71.17,375.46 L71.18,376.09 L71.19,376.73 L71.23,377.29 L71.30,377.70 L71.36,377.89 L71.40,377.89 L71.45,377.81 L71.58,377.78 L71.85,377.91 L72.30,378.30 L73.02,379.01 L73.97,379.96 L75.05,381.06 L76.17,382.23 L77.22,383.41 L78.10,384.50 L78.83,385.54 L79.49,386.59 L80.09,387.63 L80.62,388.66 L81.09,389.65 L81.50,390.60 L81.88,391.48 L82.22,392.32 L82.51,393.12 L82.70,393.90 L82.77,394.69 L82.70,395.50 L82.46,396.33 L82.06,397.16 L81.55,398.00 L80.95,398.84 L80.29,399.67 L79.60,400.50 L78.82,401.34 L77.90,402.21 L76.92,403.07 L75.96,403.90 L75.09,404.69 L74.40,405.40 L73.89,406.01 L73.52,406.52 L73.24,406.99 L73.01,407.44 L72.81,407.93 L72.60,408.50 L72.38,409.08 L72.17,409.64 L71.99,410.23 L71.83,410.91 L71.70,411.75 L71.60,412.80 L71.56,414.22 L71.57,416.00 L71.61,417.93 L71.65,419.81 L71.66,421.44 L71.60,422.60 L71.46,423.24 L71.24,423.50 L71.00,423.51 L70.76,423.39 L70.54,423.24 L70.40,423.20 L69.80,423.20 L69.66,423.24 L69.44,423.39 L69.20,423.51 L68.96,423.50 L68.74,423.24 L68.60,422.60 L68.54,421.44 L68.55,419.81 L68.59,417.93 L68.63,416.00 L68.64,414.22 L68.60,412.80 L68.50,411.75 L68.37,410.91 L68.21,410.23 L68.03,409.64 L67.82,409.08 L67.60,408.50 L67.39,407.93 L67.19,407.44 L66.96,406.99 L66.68,406.52 L66.31,406.01 L65.80,405.40 L65.11,404.69 L64.24,403.90 L63.28,403.07 L62.30,402.21 L61.38,401.34 L60.60,400.50 L59.91,399.67 L59.25,398.84 L58.65,398.00 L58.14,397.16 L57.74,396.33 L57.50,395.50 L57.43,394.69 L57.50,393.90 L57.69,393.12 L57.98,392.32 L58.32,391.48 L58.70,390.60 L59.11,389.65 L59.58,388.66 L60.11,387.63 L60.71,386.59 L61.37,385.54 L62.10,384.50 L62.98,383.41 L64.03,382.23 L65.15,381.06 L66.23,379.96 L67.18,379.01 L67.90,378.30 L68.35,377.91 L68.62,377.78 L68.75,377.81 L68.80,377.89 L68.84,377.89 L68.90,377.70 L68.97,377.29 L69.01,376.73 L69.02,376.09 L69.03,375.46 L69.05,374.91 L69.10,374.50 L69.20,374.25 L69.32,374.11 L69.46,374.05 L69.60,374.03 L69.72,374.02 L69.80,374.00Z"/></clipPath>
<path d="M70.40,374.00 L70.48,374.02 L70.60,374.03 L70.74,374.05 L70.88,374.11 L71.00,374.25 L71.10,374.50 L71.15,374.91 L71.17,375.46 L71.18,376.09 L71.19,376.73 L71.23,377.29 L71.30,377.70 L71.36,377.89 L71.40,377.89 L71.45,377.81 L71.58,377.78 L71.85,377.91 L72.30,378.30 L73.02,379.01 L73.97,379.96 L75.05,381.06 L76.17,382.23 L77.22,383.41 L78.10,384.50 L78.83,385.54 L79.49,386.59 L80.09,387.63 L80.62,388.66 L81.09,389.65 L81.50,390.60 L81.88,391.48 L82.22,392.32 L82.51,393.12 L82.70,393.90 L82.77,394.69 L82.70,395.50 L82.46,396.33 L82.06,397.16 L81.55,398.00 L80.95,398.84 L80.29,399.67 L79.60,400.50 L78.82,401.34 L77.90,402.21 L76.92,403.07 L75.96,403.90 L75.09,404.69 L74.40,405.40 L73.89,406.01 L73.52,406.52 L73.24,406.99 L73.01,407.44 L72.81,407.93 L72.60,408.50 L72.38,409.08 L72.17,409.64 L71.99,410.23 L71.83,410.91 L71.70,411.75 L71.60,412.80 L71.56,414.22 L71.57,416.00 L71.61,417.93 L71.65,419.81 L71.66,421.44 L71.60,422.60 L71.46,423.24 L71.24,423.50 L71.00,423.51 L70.76,423.39 L70.54,423.24 L70.40,423.20 L69.80,423.20 L69.66,423.24 L69.44,423.39 L69.20,423.51 L68.96,423.50 L68.74,423.24 L68.60,422.60 L68.54,421.44 L68.55,419.81 L68.59,417.93 L68.63,416.00 L68.64,414.22 L68.60,412.80 L68.50,411.75 L68.37,410.91 L68.21,410.23 L68.03,409.64 L67.82,409.08 L67.60,408.50 L67.39,407.93 L67.19,407.44 L66.96,406.99 L66.68,406.52 L66.31,406.01 L65.80,405.40 L65.11,404.69 L64.24,403.90 L63.28,403.07 L62.30,402.21 L61.38,401.34 L60.60,400.50 L59.91,399.67 L59.25,398.84 L58.65,398.00 L58.14,397.16 L57.74,396.33 L57.50,395.50 L57.43,394.69 L57.50,393.90 L57.69,393.12 L57.98,392.32 L58.32,391.48 L58.70,390.60 L59.11,389.65 L59.58,388.66 L60.11,387.63 L60.71,386.59 L61.37,385.54 L62.10,384.50 L62.98,383.41 L64.03,382.23 L65.15,381.06 L66.23,379.96 L67.18,379.01 L67.90,378.30 L68.35,377.91 L68.62,377.78 L68.75,377.81 L68.80,377.89 L68.84,377.89 L68.90,377.70 L68.97,377.29 L69.01,376.73 L69.02,376.09 L69.03,375.46 L69.05,374.91 L69.10,374.50 L69.20,374.25 L69.32,374.11 L69.46,374.05 L69.60,374.03 L69.72,374.02 L69.80,374.00Z" fill="#fff"/>
<rect x="55.099999999999994" y="373" width="30" height="51.19999999999999" fill="url(#pg)" clip-path="url(#cHBA1g)"/>
<path d="M70.40,374.00 L70.48,374.02 L70.60,374.03 L70.74,374.05 L70.88,374.11 L71.00,374.25 L71.10,374.50 L71.15,374.91 L71.17,375.46 L71.18,376.09 L71.19,376.73 L71.23,377.29 L71.30,377.70 L71.36,377.89 L71.40,377.89 L71.45,377.81 L71.58,377.78 L71.85,377.91 L72.30,378.30 L73.02,379.01 L73.97,379.96 L75.05,381.06 L76.17,382.23 L77.22,383.41 L78.10,384.50 L78.83,385.54 L79.49,386.59 L80.09,387.63 L80.62,388.66 L81.09,389.65 L81.50,390.60 L81.88,391.48 L82.22,392.32 L82.51,393.12 L82.70,393.90 L82.77,394.69 L82.70,395.50 L82.46,396.33 L82.06,397.16 L81.55,398.00 L80.95,398.84 L80.29,399.67 L79.60,400.50 L78.82,401.34 L77.90,402.21 L76.92,403.07 L75.96,403.90 L75.09,404.69 L74.40,405.40 L73.89,406.01 L73.52,406.52 L73.24,406.99 L73.01,407.44 L72.81,407.93 L72.60,408.50 L72.38,409.08 L72.17,409.64 L71.99,410.23 L71.83,410.91 L71.70,411.75 L71.60,412.80 L71.56,414.22 L71.57,416.00 L71.61,417.93 L71.65,419.81 L71.66,421.44 L71.60,422.60 L71.46,423.24 L71.24,423.50 L71.00,423.51 L70.76,423.39 L70.54,423.24 L70.40,423.20 L69.80,423.20 L69.66,423.24 L69.44,423.39 L69.20,423.51 L68.96,423.50 L68.74,423.24 L68.60,422.60 L68.54,421.44 L68.55,419.81 L68.59,417.93 L68.63,416.00 L68.64,414.22 L68.60,412.80 L68.50,411.75 L68.37,410.91 L68.21,410.23 L68.03,409.64 L67.82,409.08 L67.60,408.50 L67.39,407.93 L67.19,407.44 L66.96,406.99 L66.68,406.52 L66.31,406.01 L65.80,405.40 L65.11,404.69 L64.24,403.90 L63.28,403.07 L62.30,402.21 L61.38,401.34 L60.60,400.50 L59.91,399.67 L59.25,398.84 L58.65,398.00 L58.14,397.16 L57.74,396.33 L57.50,395.50 L57.43,394.69 L57.50,393.90 L57.69,393.12 L57.98,392.32 L58.32,391.48 L58.70,390.60 L59.11,389.65 L59.58,388.66 L60.11,387.63 L60.71,386.59 L61.37,385.54 L62.10,384.50 L62.98,383.41 L64.03,382.23 L65.15,381.06 L66.23,379.96 L67.18,379.01 L67.90,378.30 L68.35,377.91 L68.62,377.78 L68.75,377.81 L68.80,377.89 L68.84,377.89 L68.90,377.70 L68.97,377.29 L69.01,376.73 L69.02,376.09 L69.03,375.46 L69.05,374.91 L69.10,374.50 L69.20,374.25 L69.32,374.11 L69.46,374.05 L69.60,374.03 L69.72,374.02 L69.80,374.00Z" fill="none" stroke="#858585" stroke-width="0.75"/>
<line x1="70.1" y1="386.9" x2="70.1" y2="404.2" stroke="#3a3a3a" stroke-width="0.85"/>
<circle cx="70.1" cy="395.3" r="0.9" fill="#000"/>
<clipPath id="cHBA1n"><path d="M98.40,371.30 L98.47,371.38 L98.55,371.44 L98.65,371.54 L98.77,371.71 L98.92,372.02 L99.10,372.50 L99.31,373.21 L99.55,374.12 L99.82,375.16 L100.10,376.25 L100.40,377.32 L100.70,378.30 L100.97,379.19 L101.21,380.05 L101.46,380.89 L101.77,381.72 L102.17,382.55 L102.70,383.40 L103.44,384.28 L104.35,385.19 L105.36,386.09 L106.38,386.98 L107.32,387.82 L108.10,388.60 L108.78,389.29 L109.43,389.92 L110.01,390.51 L110.46,391.07 L110.70,391.62 L110.70,392.20 L110.37,392.78 L109.76,393.35 L108.95,393.91 L108.04,394.49 L107.13,395.08 L106.30,395.70 L105.50,396.35 L104.64,397.01 L103.77,397.70 L102.96,398.41 L102.25,399.14 L101.70,399.90 L101.35,400.69 L101.16,401.49 L101.07,402.32 L101.04,403.19 L101.00,404.08 L100.90,405.00 L100.74,405.95 L100.56,406.91 L100.38,407.91 L100.20,408.94 L100.04,410.04 L99.90,411.20 L99.79,412.51 L99.71,413.97 L99.65,415.49 L99.59,416.97 L99.51,418.31 L99.40,419.40 L99.25,420.25 L99.07,420.93 L98.87,421.46 L98.68,421.89 L98.51,422.22 L98.40,422.50 L97.80,422.50 L97.69,422.22 L97.52,421.89 L97.33,421.46 L97.13,420.93 L96.95,420.25 L96.80,419.40 L96.69,418.31 L96.61,416.97 L96.55,415.49 L96.49,413.97 L96.41,412.51 L96.30,411.20 L96.16,410.04 L96.00,408.94 L95.82,407.91 L95.64,406.91 L95.46,405.95 L95.30,405.00 L95.20,404.08 L95.16,403.19 L95.12,402.32 L95.04,401.49 L94.85,400.69 L94.50,399.90 L93.95,399.14 L93.24,398.41 L92.42,397.70 L91.56,397.01 L90.70,396.35 L89.90,395.70 L89.07,395.08 L88.16,394.49 L87.25,393.91 L86.44,393.35 L85.83,392.78 L85.50,392.20 L85.50,391.62 L85.74,391.07 L86.19,390.51 L86.77,389.92 L87.42,389.29 L88.10,388.60 L88.88,387.82 L89.82,386.98 L90.84,386.09 L91.85,385.19 L92.76,384.28 L93.50,383.40 L94.03,382.55 L94.43,381.72 L94.74,380.89 L94.99,380.05 L95.23,379.19 L95.50,378.30 L95.80,377.32 L96.10,376.25 L96.38,375.16 L96.65,374.12 L96.89,373.21 L97.10,372.50 L97.28,372.02 L97.43,371.71 L97.55,371.54 L97.65,371.44 L97.73,371.38 L97.80,371.30Z"/></clipPath>
<path d="M98.40,371.30 L98.47,371.38 L98.55,371.44 L98.65,371.54 L98.77,371.71 L98.92,372.02 L99.10,372.50 L99.31,373.21 L99.55,374.12 L99.82,375.16 L100.10,376.25 L100.40,377.32 L100.70,378.30 L100.97,379.19 L101.21,380.05 L101.46,380.89 L101.77,381.72 L102.17,382.55 L102.70,383.40 L103.44,384.28 L104.35,385.19 L105.36,386.09 L106.38,386.98 L107.32,387.82 L108.10,388.60 L108.78,389.29 L109.43,389.92 L110.01,390.51 L110.46,391.07 L110.70,391.62 L110.70,392.20 L110.37,392.78 L109.76,393.35 L108.95,393.91 L108.04,394.49 L107.13,395.08 L106.30,395.70 L105.50,396.35 L104.64,397.01 L103.77,397.70 L102.96,398.41 L102.25,399.14 L101.70,399.90 L101.35,400.69 L101.16,401.49 L101.07,402.32 L101.04,403.19 L101.00,404.08 L100.90,405.00 L100.74,405.95 L100.56,406.91 L100.38,407.91 L100.20,408.94 L100.04,410.04 L99.90,411.20 L99.79,412.51 L99.71,413.97 L99.65,415.49 L99.59,416.97 L99.51,418.31 L99.40,419.40 L99.25,420.25 L99.07,420.93 L98.87,421.46 L98.68,421.89 L98.51,422.22 L98.40,422.50 L97.80,422.50 L97.69,422.22 L97.52,421.89 L97.33,421.46 L97.13,420.93 L96.95,420.25 L96.80,419.40 L96.69,418.31 L96.61,416.97 L96.55,415.49 L96.49,413.97 L96.41,412.51 L96.30,411.20 L96.16,410.04 L96.00,408.94 L95.82,407.91 L95.64,406.91 L95.46,405.95 L95.30,405.00 L95.20,404.08 L95.16,403.19 L95.12,402.32 L95.04,401.49 L94.85,400.69 L94.50,399.90 L93.95,399.14 L93.24,398.41 L92.42,397.70 L91.56,397.01 L90.70,396.35 L89.90,395.70 L89.07,395.08 L88.16,394.49 L87.25,393.91 L86.44,393.35 L85.83,392.78 L85.50,392.20 L85.50,391.62 L85.74,391.07 L86.19,390.51 L86.77,389.92 L87.42,389.29 L88.10,388.60 L88.88,387.82 L89.82,386.98 L90.84,386.09 L91.85,385.19 L92.76,384.28 L93.50,383.40 L94.03,382.55 L94.43,381.72 L94.74,380.89 L94.99,380.05 L95.23,379.19 L95.50,378.30 L95.80,377.32 L96.10,376.25 L96.38,375.16 L96.65,374.12 L96.89,373.21 L97.10,372.50 L97.28,372.02 L97.43,371.71 L97.55,371.54 L97.65,371.44 L97.73,371.38 L97.80,371.30Z" fill="#f6fbf2"/>
<rect x="83.1" y="370.3" width="30" height="53.19999999999999" fill="url(#pn)" clip-path="url(#cHBA1n)"/>
<path d="M98.40,371.30 L98.47,371.38 L98.55,371.44 L98.65,371.54 L98.77,371.71 L98.92,372.02 L99.10,372.50 L99.31,373.21 L99.55,374.12 L99.82,375.16 L100.10,376.25 L100.40,377.32 L100.70,378.30 L100.97,379.19 L101.21,380.05 L101.46,380.89 L101.77,381.72 L102.17,382.55 L102.70,383.40 L103.44,384.28 L104.35,385.19 L105.36,386.09 L106.38,386.98 L107.32,387.82 L108.10,388.60 L108.78,389.29 L109.43,389.92 L110.01,390.51 L110.46,391.07 L110.70,391.62 L110.70,392.20 L110.37,392.78 L109.76,393.35 L108.95,393.91 L108.04,394.49 L107.13,395.08 L106.30,395.70 L105.50,396.35 L104.64,397.01 L103.77,397.70 L102.96,398.41 L102.25,399.14 L101.70,399.90 L101.35,400.69 L101.16,401.49 L101.07,402.32 L101.04,403.19 L101.00,404.08 L100.90,405.00 L100.74,405.95 L100.56,406.91 L100.38,407.91 L100.20,408.94 L100.04,410.04 L99.90,411.20 L99.79,412.51 L99.71,413.97 L99.65,415.49 L99.59,416.97 L99.51,418.31 L99.40,419.40 L99.25,420.25 L99.07,420.93 L98.87,421.46 L98.68,421.89 L98.51,422.22 L98.40,422.50 L97.80,422.50 L97.69,422.22 L97.52,421.89 L97.33,421.46 L97.13,420.93 L96.95,420.25 L96.80,419.40 L96.69,418.31 L96.61,416.97 L96.55,415.49 L96.49,413.97 L96.41,412.51 L96.30,411.20 L96.16,410.04 L96.00,408.94 L95.82,407.91 L95.64,406.91 L95.46,405.95 L95.30,405.00 L95.20,404.08 L95.16,403.19 L95.12,402.32 L95.04,401.49 L94.85,400.69 L94.50,399.90 L93.95,399.14 L93.24,398.41 L92.42,397.70 L91.56,397.01 L90.70,396.35 L89.90,395.70 L89.07,395.08 L88.16,394.49 L87.25,393.91 L86.44,393.35 L85.83,392.78 L85.50,392.20 L85.50,391.62 L85.74,391.07 L86.19,390.51 L86.77,389.92 L87.42,389.29 L88.10,388.60 L88.88,387.82 L89.82,386.98 L90.84,386.09 L91.85,385.19 L92.76,384.28 L93.50,383.40 L94.03,382.55 L94.43,381.72 L94.74,380.89 L94.99,380.05 L95.23,379.19 L95.50,378.30 L95.80,377.32 L96.10,376.25 L96.38,375.16 L96.65,374.12 L96.89,373.21 L97.10,372.50 L97.28,372.02 L97.43,371.71 L97.55,371.54 L97.65,371.44 L97.73,371.38 L97.80,371.30Z" fill="none" stroke="#9aa394" stroke-width="0.75"/>
<line x1="98.1" y1="384.5" x2="98.1" y2="400.5" stroke="#3a3a3a" stroke-width="0.85"/>
<circle cx="98.1" cy="392.1" r="0.9" fill="#000"/>
<clipPath id="cHBA2g"><path d="M148.40,368.30 L148.51,368.93 L148.66,369.80 L148.83,370.84 L149.04,371.93 L149.30,372.98 L149.60,373.90 L149.94,374.66 L150.31,375.35 L150.72,376.00 L151.19,376.65 L151.71,377.34 L152.30,378.10 L152.99,378.95 L153.77,379.84 L154.62,380.77 L155.48,381.74 L156.32,382.72 L157.10,383.70 L157.91,384.70 L158.79,385.72 L159.65,386.76 L160.39,387.80 L160.91,388.85 L161.10,389.90 L160.91,390.95 L160.39,392.02 L159.65,393.09 L158.79,394.16 L157.91,395.20 L157.10,396.20 L156.32,397.18 L155.46,398.14 L154.59,399.08 L153.74,399.99 L152.96,400.87 L152.30,401.70 L151.76,402.48 L151.31,403.20 L150.93,403.89 L150.61,404.56 L150.34,405.22 L150.10,405.90 L149.93,406.53 L149.83,407.09 L149.79,407.64 L149.76,408.27 L149.70,409.03 L149.60,410.00 L149.43,411.33 L149.21,413.00 L148.97,414.81 L148.74,416.56 L148.54,418.05 L148.40,419.10 L147.80,419.10 L147.66,418.05 L147.46,416.56 L147.23,414.81 L146.99,413.00 L146.77,411.33 L146.60,410.00 L146.50,409.03 L146.44,408.27 L146.41,407.64 L146.37,407.09 L146.27,406.53 L146.10,405.90 L145.86,405.22 L145.59,404.56 L145.27,403.89 L144.89,403.20 L144.44,402.48 L143.90,401.70 L143.24,400.87 L142.46,399.99 L141.61,399.08 L140.74,398.14 L139.88,397.18 L139.10,396.20 L138.29,395.20 L137.41,394.16 L136.55,393.09 L135.81,392.02 L135.29,390.95 L135.10,389.90 L135.29,388.85 L135.81,387.80 L136.55,386.76 L137.41,385.72 L138.29,384.70 L139.10,383.70 L139.88,382.72 L140.72,381.74 L141.58,380.77 L142.43,379.84 L143.21,378.95 L143.90,378.10 L144.49,377.34 L145.01,376.65 L145.47,376.00 L145.89,375.35 L146.26,374.66 L146.60,373.90 L146.90,372.98 L147.16,371.93 L147.37,370.84 L147.54,369.80 L147.69,368.93 L147.80,368.30Z"/></clipPath>
<path d="M148.40,368.30 L148.51,368.93 L148.66,369.80 L148.83,370.84 L149.04,371.93 L149.30,372.98 L149.60,373.90 L149.94,374.66 L150.31,375.35 L150.72,376.00 L151.19,376.65 L151.71,377.34 L152.30,378.10 L152.99,378.95 L153.77,379.84 L154.62,380.77 L155.48,381.74 L156.32,382.72 L157.10,383.70 L157.91,384.70 L158.79,385.72 L159.65,386.76 L160.39,387.80 L160.91,388.85 L161.10,389.90 L160.91,390.95 L160.39,392.02 L159.65,393.09 L158.79,394.16 L157.91,395.20 L157.10,396.20 L156.32,397.18 L155.46,398.14 L154.59,399.08 L153.74,399.99 L152.96,400.87 L152.30,401.70 L151.76,402.48 L151.31,403.20 L150.93,403.89 L150.61,404.56 L150.34,405.22 L150.10,405.90 L149.93,406.53 L149.83,407.09 L149.79,407.64 L149.76,408.27 L149.70,409.03 L149.60,410.00 L149.43,411.33 L149.21,413.00 L148.97,414.81 L148.74,416.56 L148.54,418.05 L148.40,419.10 L147.80,419.10 L147.66,418.05 L147.46,416.56 L147.23,414.81 L146.99,413.00 L146.77,411.33 L146.60,410.00 L146.50,409.03 L146.44,408.27 L146.41,407.64 L146.37,407.09 L146.27,406.53 L146.10,405.90 L145.86,405.22 L145.59,404.56 L145.27,403.89 L144.89,403.20 L144.44,402.48 L143.90,401.70 L143.24,400.87 L142.46,399.99 L141.61,399.08 L140.74,398.14 L139.88,397.18 L139.10,396.20 L138.29,395.20 L137.41,394.16 L136.55,393.09 L135.81,392.02 L135.29,390.95 L135.10,389.90 L135.29,388.85 L135.81,387.80 L136.55,386.76 L137.41,385.72 L138.29,384.70 L139.10,383.70 L139.88,382.72 L140.72,381.74 L141.58,380.77 L142.43,379.84 L143.21,378.95 L143.90,378.10 L144.49,377.34 L145.01,376.65 L145.47,376.00 L145.89,375.35 L146.26,374.66 L146.60,373.90 L146.90,372.98 L147.16,371.93 L147.37,370.84 L147.54,369.80 L147.69,368.93 L147.80,368.30Z" fill="#fff"/>
<rect x="133.1" y="367.3" width="30" height="52.80000000000001" fill="url(#pg)" clip-path="url(#cHBA2g)"/>
<path d="M148.40,368.30 L148.51,368.93 L148.66,369.80 L148.83,370.84 L149.04,371.93 L149.30,372.98 L149.60,373.90 L149.94,374.66 L150.31,375.35 L150.72,376.00 L151.19,376.65 L151.71,377.34 L152.30,378.10 L152.99,378.95 L153.77,379.84 L154.62,380.77 L155.48,381.74 L156.32,382.72 L157.10,383.70 L157.91,384.70 L158.79,385.72 L159.65,386.76 L160.39,387.80 L160.91,388.85 L161.10,389.90 L160.91,390.95 L160.39,392.02 L159.65,393.09 L158.79,394.16 L157.91,395.20 L157.10,396.20 L156.32,397.18 L155.46,398.14 L154.59,399.08 L153.74,399.99 L152.96,400.87 L152.30,401.70 L151.76,402.48 L151.31,403.20 L150.93,403.89 L150.61,404.56 L150.34,405.22 L150.10,405.90 L149.93,406.53 L149.83,407.09 L149.79,407.64 L149.76,408.27 L149.70,409.03 L149.60,410.00 L149.43,411.33 L149.21,413.00 L148.97,414.81 L148.74,416.56 L148.54,418.05 L148.40,419.10 L147.80,419.10 L147.66,418.05 L147.46,416.56 L147.23,414.81 L146.99,413.00 L146.77,411.33 L146.60,410.00 L146.50,409.03 L146.44,408.27 L146.41,407.64 L146.37,407.09 L146.27,406.53 L146.10,405.90 L145.86,405.22 L145.59,404.56 L145.27,403.89 L144.89,403.20 L144.44,402.48 L143.90,401.70 L143.24,400.87 L142.46,399.99 L141.61,399.08 L140.74,398.14 L139.88,397.18 L139.10,396.20 L138.29,395.20 L137.41,394.16 L136.55,393.09 L135.81,392.02 L135.29,390.95 L135.10,389.90 L135.29,388.85 L135.81,387.80 L136.55,386.76 L137.41,385.72 L138.29,384.70 L139.10,383.70 L139.88,382.72 L140.72,381.74 L141.58,380.77 L142.43,379.84 L143.21,378.95 L143.90,378.10 L144.49,377.34 L145.01,376.65 L145.47,376.00 L145.89,375.35 L146.26,374.66 L146.60,373.90 L146.90,372.98 L147.16,371.93 L147.37,370.84 L147.54,369.80 L147.69,368.93 L147.80,368.30Z" fill="none" stroke="#858585" stroke-width="0.75"/>
<line x1="148.1" y1="382.3" x2="148.1" y2="396.9" stroke="#3a3a3a" stroke-width="0.85"/>
<circle cx="148.1" cy="390.3" r="0.9" fill="#000"/>
<clipPath id="cHBA2n"><path d="M176.50,368.80 L176.63,368.92 L176.81,369.09 L177.02,369.29 L177.24,369.51 L177.44,369.75 L177.60,370.00 L177.72,370.27 L177.81,370.56 L177.89,370.86 L177.95,371.18 L177.99,371.49 L178.00,371.80 L177.97,372.10 L177.90,372.40 L177.81,372.71 L177.72,373.01 L177.64,373.31 L177.60,373.60 L177.54,373.86 L177.44,374.08 L177.36,374.30 L177.36,374.55 L177.48,374.87 L177.80,375.30 L178.34,375.83 L179.06,376.44 L179.92,377.12 L180.86,377.86 L181.84,378.66 L182.80,379.50 L183.89,380.44 L185.17,381.49 L186.48,382.60 L187.68,383.71 L188.60,384.76 L189.10,385.70 L189.10,386.51 L188.72,387.22 L188.07,387.88 L187.26,388.52 L186.40,389.18 L185.60,389.90 L184.81,390.69 L183.92,391.53 L182.98,392.39 L182.05,393.24 L181.17,394.06 L180.40,394.80 L179.72,395.46 L179.09,396.06 L178.52,396.63 L178.01,397.17 L177.57,397.72 L177.20,398.30 L176.92,398.61 L176.74,398.58 L176.62,398.56 L176.55,398.89 L176.50,399.92 L176.50,402.00 L176.50,405.70 L176.50,410.87 L176.50,416.73 L176.50,422.54 L176.50,427.55 L176.45,431.00 L175.95,431.00 L175.90,427.55 L175.90,422.54 L175.90,416.73 L175.90,410.87 L175.90,405.70 L175.90,402.00 L175.90,399.92 L175.85,398.89 L175.77,398.56 L175.66,398.58 L175.48,398.61 L175.20,398.30 L174.83,397.72 L174.39,397.17 L173.88,396.63 L173.31,396.06 L172.68,395.46 L172.00,394.80 L171.23,394.06 L170.35,393.24 L169.42,392.39 L168.48,391.53 L167.59,390.69 L166.80,389.90 L166.00,389.18 L165.14,388.52 L164.33,387.88 L163.68,387.22 L163.30,386.51 L163.30,385.70 L163.80,384.76 L164.72,383.71 L165.92,382.60 L167.23,381.49 L168.51,380.44 L169.60,379.50 L170.56,378.66 L171.54,377.86 L172.48,377.12 L173.34,376.44 L174.06,375.83 L174.60,375.30 L174.92,374.87 L175.04,374.55 L175.04,374.30 L174.96,374.08 L174.86,373.86 L174.80,373.60 L174.76,373.31 L174.68,373.01 L174.59,372.71 L174.50,372.40 L174.43,372.10 L174.40,371.80 L174.41,371.49 L174.45,371.18 L174.51,370.86 L174.59,370.56 L174.68,370.27 L174.80,370.00 L174.96,369.75 L175.16,369.51 L175.38,369.29 L175.59,369.09 L175.77,368.92 L175.90,368.80Z"/></clipPath>
<path d="M176.50,368.80 L176.63,368.92 L176.81,369.09 L177.02,369.29 L177.24,369.51 L177.44,369.75 L177.60,370.00 L177.72,370.27 L177.81,370.56 L177.89,370.86 L177.95,371.18 L177.99,371.49 L178.00,371.80 L177.97,372.10 L177.90,372.40 L177.81,372.71 L177.72,373.01 L177.64,373.31 L177.60,373.60 L177.54,373.86 L177.44,374.08 L177.36,374.30 L177.36,374.55 L177.48,374.87 L177.80,375.30 L178.34,375.83 L179.06,376.44 L179.92,377.12 L180.86,377.86 L181.84,378.66 L182.80,379.50 L183.89,380.44 L185.17,381.49 L186.48,382.60 L187.68,383.71 L188.60,384.76 L189.10,385.70 L189.10,386.51 L188.72,387.22 L188.07,387.88 L187.26,388.52 L186.40,389.18 L185.60,389.90 L184.81,390.69 L183.92,391.53 L182.98,392.39 L182.05,393.24 L181.17,394.06 L180.40,394.80 L179.72,395.46 L179.09,396.06 L178.52,396.63 L178.01,397.17 L177.57,397.72 L177.20,398.30 L176.92,398.61 L176.74,398.58 L176.62,398.56 L176.55,398.89 L176.50,399.92 L176.50,402.00 L176.50,405.70 L176.50,410.87 L176.50,416.73 L176.50,422.54 L176.50,427.55 L176.45,431.00 L175.95,431.00 L175.90,427.55 L175.90,422.54 L175.90,416.73 L175.90,410.87 L175.90,405.70 L175.90,402.00 L175.90,399.92 L175.85,398.89 L175.77,398.56 L175.66,398.58 L175.48,398.61 L175.20,398.30 L174.83,397.72 L174.39,397.17 L173.88,396.63 L173.31,396.06 L172.68,395.46 L172.00,394.80 L171.23,394.06 L170.35,393.24 L169.42,392.39 L168.48,391.53 L167.59,390.69 L166.80,389.90 L166.00,389.18 L165.14,388.52 L164.33,387.88 L163.68,387.22 L163.30,386.51 L163.30,385.70 L163.80,384.76 L164.72,383.71 L165.92,382.60 L167.23,381.49 L168.51,380.44 L169.60,379.50 L170.56,378.66 L171.54,377.86 L172.48,377.12 L173.34,376.44 L174.06,375.83 L174.60,375.30 L174.92,374.87 L175.04,374.55 L175.04,374.30 L174.96,374.08 L174.86,373.86 L174.80,373.60 L174.76,373.31 L174.68,373.01 L174.59,372.71 L174.50,372.40 L174.43,372.10 L174.40,371.80 L174.41,371.49 L174.45,371.18 L174.51,370.86 L174.59,370.56 L174.68,370.27 L174.80,370.00 L174.96,369.75 L175.16,369.51 L175.38,369.29 L175.59,369.09 L175.77,368.92 L175.90,368.80Z" fill="#f6fbf2"/>
<rect x="161.2" y="367.8" width="30" height="64.19999999999999" fill="url(#pn)" clip-path="url(#cHBA2n)"/>
<path d="M176.50,368.80 L176.63,368.92 L176.81,369.09 L177.02,369.29 L177.24,369.51 L177.44,369.75 L177.60,370.00 L177.72,370.27 L177.81,370.56 L177.89,370.86 L177.95,371.18 L177.99,371.49 L178.00,371.80 L177.97,372.10 L177.90,372.40 L177.81,372.71 L177.72,373.01 L177.64,373.31 L177.60,373.60 L177.54,373.86 L177.44,374.08 L177.36,374.30 L177.36,374.55 L177.48,374.87 L177.80,375.30 L178.34,375.83 L179.06,376.44 L179.92,377.12 L180.86,377.86 L181.84,378.66 L182.80,379.50 L183.89,380.44 L185.17,381.49 L186.48,382.60 L187.68,383.71 L188.60,384.76 L189.10,385.70 L189.10,386.51 L188.72,387.22 L188.07,387.88 L187.26,388.52 L186.40,389.18 L185.60,389.90 L184.81,390.69 L183.92,391.53 L182.98,392.39 L182.05,393.24 L181.17,394.06 L180.40,394.80 L179.72,395.46 L179.09,396.06 L178.52,396.63 L178.01,397.17 L177.57,397.72 L177.20,398.30 L176.92,398.61 L176.74,398.58 L176.62,398.56 L176.55,398.89 L176.50,399.92 L176.50,402.00 L176.50,405.70 L176.50,410.87 L176.50,416.73 L176.50,422.54 L176.50,427.55 L176.45,431.00 L175.95,431.00 L175.90,427.55 L175.90,422.54 L175.90,416.73 L175.90,410.87 L175.90,405.70 L175.90,402.00 L175.90,399.92 L175.85,398.89 L175.77,398.56 L175.66,398.58 L175.48,398.61 L175.20,398.30 L174.83,397.72 L174.39,397.17 L173.88,396.63 L173.31,396.06 L172.68,395.46 L172.00,394.80 L171.23,394.06 L170.35,393.24 L169.42,392.39 L168.48,391.53 L167.59,390.69 L166.80,389.90 L166.00,389.18 L165.14,388.52 L164.33,387.88 L163.68,387.22 L163.30,386.51 L163.30,385.70 L163.80,384.76 L164.72,383.71 L165.92,382.60 L167.23,381.49 L168.51,380.44 L169.60,379.50 L170.56,378.66 L171.54,377.86 L172.48,377.12 L173.34,376.44 L174.06,375.83 L174.60,375.30 L174.92,374.87 L175.04,374.55 L175.04,374.30 L174.96,374.08 L174.86,373.86 L174.80,373.60 L174.76,373.31 L174.68,373.01 L174.59,372.71 L174.50,372.40 L174.43,372.10 L174.40,371.80 L174.41,371.49 L174.45,371.18 L174.51,370.86 L174.59,370.56 L174.68,370.27 L174.80,370.00 L174.96,369.75 L175.16,369.51 L175.38,369.29 L175.59,369.09 L175.77,368.92 L175.90,368.80Z" fill="none" stroke="#9aa394" stroke-width="0.75"/>
<line x1="176.2" y1="379.5" x2="176.2" y2="393.4" stroke="#3a3a3a" stroke-width="0.85"/>
<circle cx="176.2" cy="386.2" r="0.9" fill="#000"/>
<clipPath id="cHBZg"><path d="M225.90,390.50 L225.90,394.50 L225.90,400.33 L225.90,407.09 L225.90,413.89 L225.90,419.82 L225.90,424.00 L225.91,426.22 L226.02,427.15 L226.17,427.22 L226.38,426.85 L226.68,426.47 L227.10,426.50 L227.64,426.86 L228.29,427.20 L229.02,427.53 L229.83,427.85 L230.69,428.17 L231.60,428.50 L232.71,428.85 L234.06,429.21 L235.47,429.57 L236.75,429.92 L237.72,430.24 L238.20,430.50 L238.11,430.70 L237.59,430.85 L236.76,430.97 L235.74,431.07 L234.65,431.17 L233.60,431.30 L232.47,431.41 L231.15,431.49 L229.75,431.56 L228.41,431.68 L227.25,431.88 L226.40,432.20 L225.91,432.71 L225.90,433.39 L225.90,434.16 L225.90,434.91 L225.90,435.55 L225.75,436.00 L225.45,436.00 L225.30,435.55 L225.30,434.91 L225.30,434.16 L225.30,433.39 L225.29,432.71 L224.80,432.20 L223.95,431.88 L222.79,431.68 L221.45,431.56 L220.05,431.49 L218.73,431.41 L217.60,431.30 L216.55,431.17 L215.46,431.07 L214.44,430.97 L213.61,430.85 L213.09,430.70 L213.00,430.50 L213.48,430.24 L214.45,429.92 L215.73,429.57 L217.14,429.21 L218.49,428.85 L219.60,428.50 L220.51,428.17 L221.37,427.85 L222.18,427.53 L222.91,427.20 L223.56,426.86 L224.10,426.50 L224.52,426.47 L224.82,426.85 L225.03,427.22 L225.18,427.15 L225.29,426.22 L225.30,424.00 L225.30,419.82 L225.30,413.89 L225.30,407.09 L225.30,400.33 L225.30,394.50 L225.30,390.50Z"/></clipPath>
<path d="M225.90,390.50 L225.90,394.50 L225.90,400.33 L225.90,407.09 L225.90,413.89 L225.90,419.82 L225.90,424.00 L225.91,426.22 L226.02,427.15 L226.17,427.22 L226.38,426.85 L226.68,426.47 L227.10,426.50 L227.64,426.86 L228.29,427.20 L229.02,427.53 L229.83,427.85 L230.69,428.17 L231.60,428.50 L232.71,428.85 L234.06,429.21 L235.47,429.57 L236.75,429.92 L237.72,430.24 L238.20,430.50 L238.11,430.70 L237.59,430.85 L236.76,430.97 L235.74,431.07 L234.65,431.17 L233.60,431.30 L232.47,431.41 L231.15,431.49 L229.75,431.56 L228.41,431.68 L227.25,431.88 L226.40,432.20 L225.91,432.71 L225.90,433.39 L225.90,434.16 L225.90,434.91 L225.90,435.55 L225.75,436.00 L225.45,436.00 L225.30,435.55 L225.30,434.91 L225.30,434.16 L225.30,433.39 L225.29,432.71 L224.80,432.20 L223.95,431.88 L222.79,431.68 L221.45,431.56 L220.05,431.49 L218.73,431.41 L217.60,431.30 L216.55,431.17 L215.46,431.07 L214.44,430.97 L213.61,430.85 L213.09,430.70 L213.00,430.50 L213.48,430.24 L214.45,429.92 L215.73,429.57 L217.14,429.21 L218.49,428.85 L219.60,428.50 L220.51,428.17 L221.37,427.85 L222.18,427.53 L222.91,427.20 L223.56,426.86 L224.10,426.50 L224.52,426.47 L224.82,426.85 L225.03,427.22 L225.18,427.15 L225.29,426.22 L225.30,424.00 L225.30,419.82 L225.30,413.89 L225.30,407.09 L225.30,400.33 L225.30,394.50 L225.30,390.50Z" fill="#fff"/>
<rect x="210.6" y="389.5" width="30" height="47.5" fill="url(#pg)" clip-path="url(#cHBZg)"/>
<path d="M225.90,390.50 L225.90,394.50 L225.90,400.33 L225.90,407.09 L225.90,413.89 L225.90,419.82 L225.90,424.00 L225.91,426.22 L226.02,427.15 L226.17,427.22 L226.38,426.85 L226.68,426.47 L227.10,426.50 L227.64,426.86 L228.29,427.20 L229.02,427.53 L229.83,427.85 L230.69,428.17 L231.60,428.50 L232.71,428.85 L234.06,429.21 L235.47,429.57 L236.75,429.92 L237.72,430.24 L238.20,430.50 L238.11,430.70 L237.59,430.85 L236.76,430.97 L235.74,431.07 L234.65,431.17 L233.60,431.30 L232.47,431.41 L231.15,431.49 L229.75,431.56 L228.41,431.68 L227.25,431.88 L226.40,432.20 L225.91,432.71 L225.90,433.39 L225.90,434.16 L225.90,434.91 L225.90,435.55 L225.75,436.00 L225.45,436.00 L225.30,435.55 L225.30,434.91 L225.30,434.16 L225.30,433.39 L225.29,432.71 L224.80,432.20 L223.95,431.88 L222.79,431.68 L221.45,431.56 L220.05,431.49 L218.73,431.41 L217.60,431.30 L216.55,431.17 L215.46,431.07 L214.44,430.97 L213.61,430.85 L213.09,430.70 L213.00,430.50 L213.48,430.24 L214.45,429.92 L215.73,429.57 L217.14,429.21 L218.49,428.85 L219.60,428.50 L220.51,428.17 L221.37,427.85 L222.18,427.53 L222.91,427.20 L223.56,426.86 L224.10,426.50 L224.52,426.47 L224.82,426.85 L225.03,427.22 L225.18,427.15 L225.29,426.22 L225.30,424.00 L225.30,419.82 L225.30,413.89 L225.30,407.09 L225.30,400.33 L225.30,394.50 L225.30,390.50Z" fill="none" stroke="#858585" stroke-width="0.75"/>
<line x1="225.6" y1="415.7" x2="225.6" y2="426.8" stroke="#3a3a3a" stroke-width="0.85"/>
<circle cx="225.6" cy="425.5" r="0.9" fill="#000"/>
<clipPath id="cHBZn"><path d="M253.60,387.40 L253.60,392.21 L253.60,399.21 L253.60,407.34 L253.60,415.49 L253.60,422.57 L253.60,427.50 L253.96,430.02 L254.40,430.96 L254.94,430.83 L255.59,430.16 L256.38,429.48 L257.30,429.30 L258.57,429.54 L260.23,429.76 L262.01,429.97 L263.67,430.16 L264.95,430.34 L265.60,430.50 L265.51,430.64 L264.87,430.77 L263.86,430.88 L262.64,430.98 L261.39,431.08 L260.30,431.20 L259.25,431.30 L258.09,431.36 L256.91,431.43 L255.79,431.54 L254.82,431.72 L254.10,432.00 L253.66,432.46 L253.60,433.07 L253.60,433.75 L253.60,434.42 L253.60,435.00 L253.45,435.40 L253.15,435.40 L253.00,435.00 L253.00,434.42 L253.00,433.75 L253.00,433.07 L252.94,432.46 L252.50,432.00 L251.78,431.72 L250.81,431.54 L249.69,431.43 L248.51,431.36 L247.35,431.30 L246.30,431.20 L245.21,431.08 L243.96,430.98 L242.74,430.88 L241.73,430.77 L241.09,430.64 L241.00,430.50 L241.65,430.34 L242.93,430.16 L244.59,429.97 L246.37,429.76 L248.03,429.54 L249.30,429.30 L250.22,429.48 L251.01,430.16 L251.66,430.83 L252.20,430.96 L252.64,430.02 L253.00,427.50 L253.00,422.57 L253.00,415.49 L253.00,407.34 L253.00,399.21 L253.00,392.21 L253.00,387.40Z"/></clipPath>
<path d="M253.60,387.40 L253.60,392.21 L253.60,399.21 L253.60,407.34 L253.60,415.49 L253.60,422.57 L253.60,427.50 L253.96,430.02 L254.40,430.96 L254.94,430.83 L255.59,430.16 L256.38,429.48 L257.30,429.30 L258.57,429.54 L260.23,429.76 L262.01,429.97 L263.67,430.16 L264.95,430.34 L265.60,430.50 L265.51,430.64 L264.87,430.77 L263.86,430.88 L262.64,430.98 L261.39,431.08 L260.30,431.20 L259.25,431.30 L258.09,431.36 L256.91,431.43 L255.79,431.54 L254.82,431.72 L254.10,432.00 L253.66,432.46 L253.60,433.07 L253.60,433.75 L253.60,434.42 L253.60,435.00 L253.45,435.40 L253.15,435.40 L253.00,435.00 L253.00,434.42 L253.00,433.75 L253.00,433.07 L252.94,432.46 L252.50,432.00 L251.78,431.72 L250.81,431.54 L249.69,431.43 L248.51,431.36 L247.35,431.30 L246.30,431.20 L245.21,431.08 L243.96,430.98 L242.74,430.88 L241.73,430.77 L241.09,430.64 L241.00,430.50 L241.65,430.34 L242.93,430.16 L244.59,429.97 L246.37,429.76 L248.03,429.54 L249.30,429.30 L250.22,429.48 L251.01,430.16 L251.66,430.83 L252.20,430.96 L252.64,430.02 L253.00,427.50 L253.00,422.57 L253.00,415.49 L253.00,407.34 L253.00,399.21 L253.00,392.21 L253.00,387.40Z" fill="#f6fbf2"/>
<rect x="238.3" y="386.4" width="30" height="50.0" fill="url(#pn)" clip-path="url(#cHBZn)"/>
<path d="M253.60,387.40 L253.60,392.21 L253.60,399.21 L253.60,407.34 L253.60,415.49 L253.60,422.57 L253.60,427.50 L253.96,430.02 L254.40,430.96 L254.94,430.83 L255.59,430.16 L256.38,429.48 L257.30,429.30 L258.57,429.54 L260.23,429.76 L262.01,429.97 L263.67,430.16 L264.95,430.34 L265.60,430.50 L265.51,430.64 L264.87,430.77 L263.86,430.88 L262.64,430.98 L261.39,431.08 L260.30,431.20 L259.25,431.30 L258.09,431.36 L256.91,431.43 L255.79,431.54 L254.82,431.72 L254.10,432.00 L253.66,432.46 L253.60,433.07 L253.60,433.75 L253.60,434.42 L253.60,435.00 L253.45,435.40 L253.15,435.40 L253.00,435.00 L253.00,434.42 L253.00,433.75 L253.00,433.07 L252.94,432.46 L252.50,432.00 L251.78,431.72 L250.81,431.54 L249.69,431.43 L248.51,431.36 L247.35,431.30 L246.30,431.20 L245.21,431.08 L243.96,430.98 L242.74,430.88 L241.73,430.77 L241.09,430.64 L241.00,430.50 L241.65,430.34 L242.93,430.16 L244.59,429.97 L246.37,429.76 L248.03,429.54 L249.30,429.30 L250.22,429.48 L251.01,430.16 L251.66,430.83 L252.20,430.96 L252.64,430.02 L253.00,427.50 L253.00,422.57 L253.00,415.49 L253.00,407.34 L253.00,399.21 L253.00,392.21 L253.00,387.40Z" fill="none" stroke="#9aa394" stroke-width="0.75"/>
<line x1="253.3" y1="416.9" x2="253.3" y2="428" stroke="#3a3a3a" stroke-width="0.85"/>
<circle cx="253.3" cy="426.2" r="0.9" fill="#000"/>
<clipPath id="cHBEg"><path d="M69.70,465.40 L69.80,465.63 L69.93,465.94 L70.09,466.31 L70.26,466.71 L70.43,467.11 L70.60,467.50 L70.74,467.86 L70.86,468.21 L70.98,468.57 L71.12,468.94 L71.32,469.35 L71.60,469.80 L71.97,470.30 L72.40,470.86 L72.89,471.44 L73.42,472.03 L73.96,472.63 L74.50,473.20 L75.05,473.75 L75.64,474.30 L76.24,474.85 L76.84,475.40 L77.43,475.95 L78.00,476.50 L78.56,477.06 L79.12,477.63 L79.68,478.19 L80.20,478.76 L80.68,479.33 L81.10,479.90 L81.47,480.47 L81.80,481.03 L82.09,481.60 L82.33,482.17 L82.50,482.73 L82.60,483.30 L82.62,483.87 L82.58,484.43 L82.48,485.00 L82.31,485.57 L82.08,486.13 L81.80,486.70 L81.45,487.27 L81.02,487.83 L80.53,488.40 L80.00,488.97 L79.45,489.53 L78.90,490.10 L78.31,490.67 L77.68,491.23 L77.02,491.80 L76.37,492.37 L75.75,492.93 L75.20,493.50 L74.71,494.07 L74.24,494.64 L73.81,495.22 L73.43,495.79 L73.09,496.35 L72.80,496.90 L72.58,497.40 L72.43,497.85 L72.32,498.29 L72.24,498.77 L72.17,499.32 L72.10,500.00 L72.03,500.78 L71.97,501.61 L71.93,502.53 L71.89,503.54 L71.85,504.66 L71.80,505.90 L71.75,507.37 L71.70,509.06 L71.64,510.87 L71.58,512.66 L71.50,514.31 L71.40,515.70 L71.26,516.84 L71.10,517.82 L70.92,518.67 L70.73,519.39 L70.56,520.00 L70.40,520.50 L70.26,520.86 L70.12,521.06 L69.99,521.15 L69.87,521.17 L69.77,521.17 L69.70,521.20 L69.10,521.20 L69.03,521.17 L68.93,521.17 L68.81,521.15 L68.68,521.06 L68.54,520.86 L68.40,520.50 L68.24,520.00 L68.07,519.39 L67.88,518.67 L67.70,517.82 L67.54,516.84 L67.40,515.70 L67.30,514.31 L67.22,512.66 L67.16,510.87 L67.10,509.06 L67.05,507.37 L67.00,505.90 L66.95,504.66 L66.91,503.54 L66.87,502.53 L66.83,501.61 L66.77,500.78 L66.70,500.00 L66.63,499.32 L66.56,498.77 L66.48,498.29 L66.37,497.85 L66.22,497.40 L66.00,496.90 L65.71,496.35 L65.37,495.79 L64.99,495.22 L64.56,494.64 L64.09,494.07 L63.60,493.50 L63.05,492.93 L62.43,492.37 L61.78,491.80 L61.12,491.23 L60.49,490.67 L59.90,490.10 L59.35,489.53 L58.80,488.97 L58.27,488.40 L57.78,487.83 L57.35,487.27 L57.00,486.70 L56.72,486.13 L56.49,485.57 L56.33,485.00 L56.22,484.43 L56.18,483.87 L56.20,483.30 L56.30,482.73 L56.47,482.17 L56.71,481.60 L57.00,481.03 L57.33,480.47 L57.70,479.90 L58.12,479.33 L58.60,478.76 L59.13,478.19 L59.68,477.63 L60.24,477.06 L60.80,476.50 L61.37,475.95 L61.96,475.40 L62.56,474.85 L63.16,474.30 L63.75,473.75 L64.30,473.20 L64.84,472.63 L65.38,472.03 L65.91,471.44 L66.40,470.86 L66.83,470.30 L67.20,469.80 L67.48,469.35 L67.68,468.94 L67.83,468.57 L67.94,468.21 L68.06,467.86 L68.20,467.50 L68.37,467.11 L68.54,466.71 L68.71,466.31 L68.87,465.94 L69.00,465.63 L69.10,465.40Z"/></clipPath>
<path d="M69.70,465.40 L69.80,465.63 L69.93,465.94 L70.09,466.31 L70.26,466.71 L70.43,467.11 L70.60,467.50 L70.74,467.86 L70.86,468.21 L70.98,468.57 L71.12,468.94 L71.32,469.35 L71.60,469.80 L71.97,470.30 L72.40,470.86 L72.89,471.44 L73.42,472.03 L73.96,472.63 L74.50,473.20 L75.05,473.75 L75.64,474.30 L76.24,474.85 L76.84,475.40 L77.43,475.95 L78.00,476.50 L78.56,477.06 L79.12,477.63 L79.68,478.19 L80.20,478.76 L80.68,479.33 L81.10,479.90 L81.47,480.47 L81.80,481.03 L82.09,481.60 L82.33,482.17 L82.50,482.73 L82.60,483.30 L82.62,483.87 L82.58,484.43 L82.48,485.00 L82.31,485.57 L82.08,486.13 L81.80,486.70 L81.45,487.27 L81.02,487.83 L80.53,488.40 L80.00,488.97 L79.45,489.53 L78.90,490.10 L78.31,490.67 L77.68,491.23 L77.02,491.80 L76.37,492.37 L75.75,492.93 L75.20,493.50 L74.71,494.07 L74.24,494.64 L73.81,495.22 L73.43,495.79 L73.09,496.35 L72.80,496.90 L72.58,497.40 L72.43,497.85 L72.32,498.29 L72.24,498.77 L72.17,499.32 L72.10,500.00 L72.03,500.78 L71.97,501.61 L71.93,502.53 L71.89,503.54 L71.85,504.66 L71.80,505.90 L71.75,507.37 L71.70,509.06 L71.64,510.87 L71.58,512.66 L71.50,514.31 L71.40,515.70 L71.26,516.84 L71.10,517.82 L70.92,518.67 L70.73,519.39 L70.56,520.00 L70.40,520.50 L70.26,520.86 L70.12,521.06 L69.99,521.15 L69.87,521.17 L69.77,521.17 L69.70,521.20 L69.10,521.20 L69.03,521.17 L68.93,521.17 L68.81,521.15 L68.68,521.06 L68.54,520.86 L68.40,520.50 L68.24,520.00 L68.07,519.39 L67.88,518.67 L67.70,517.82 L67.54,516.84 L67.40,515.70 L67.30,514.31 L67.22,512.66 L67.16,510.87 L67.10,509.06 L67.05,507.37 L67.00,505.90 L66.95,504.66 L66.91,503.54 L66.87,502.53 L66.83,501.61 L66.77,500.78 L66.70,500.00 L66.63,499.32 L66.56,498.77 L66.48,498.29 L66.37,497.85 L66.22,497.40 L66.00,496.90 L65.71,496.35 L65.37,495.79 L64.99,495.22 L64.56,494.64 L64.09,494.07 L63.60,493.50 L63.05,492.93 L62.43,492.37 L61.78,491.80 L61.12,491.23 L60.49,490.67 L59.90,490.10 L59.35,489.53 L58.80,488.97 L58.27,488.40 L57.78,487.83 L57.35,487.27 L57.00,486.70 L56.72,486.13 L56.49,485.57 L56.33,485.00 L56.22,484.43 L56.18,483.87 L56.20,483.30 L56.30,482.73 L56.47,482.17 L56.71,481.60 L57.00,481.03 L57.33,480.47 L57.70,479.90 L58.12,479.33 L58.60,478.76 L59.13,478.19 L59.68,477.63 L60.24,477.06 L60.80,476.50 L61.37,475.95 L61.96,475.40 L62.56,474.85 L63.16,474.30 L63.75,473.75 L64.30,473.20 L64.84,472.63 L65.38,472.03 L65.91,471.44 L66.40,470.86 L66.83,470.30 L67.20,469.80 L67.48,469.35 L67.68,468.94 L67.83,468.57 L67.94,468.21 L68.06,467.86 L68.20,467.50 L68.37,467.11 L68.54,466.71 L68.71,466.31 L68.87,465.94 L69.00,465.63 L69.10,465.40Z" fill="#fff"/>
<rect x="54.400000000000006" y="464.4" width="30" height="57.80000000000007" fill="url(#pg)" clip-path="url(#cHBEg)"/>
<path d="M69.70,465.40 L69.80,465.63 L69.93,465.94 L70.09,466.31 L70.26,466.71 L70.43,467.11 L70.60,467.50 L70.74,467.86 L70.86,468.21 L70.98,468.57 L71.12,468.94 L71.32,469.35 L71.60,469.80 L71.97,470.30 L72.40,470.86 L72.89,471.44 L73.42,472.03 L73.96,472.63 L74.50,473.20 L75.05,473.75 L75.64,474.30 L76.24,474.85 L76.84,475.40 L77.43,475.95 L78.00,476.50 L78.56,477.06 L79.12,477.63 L79.68,478.19 L80.20,478.76 L80.68,479.33 L81.10,479.90 L81.47,480.47 L81.80,481.03 L82.09,481.60 L82.33,482.17 L82.50,482.73 L82.60,483.30 L82.62,483.87 L82.58,484.43 L82.48,485.00 L82.31,485.57 L82.08,486.13 L81.80,486.70 L81.45,487.27 L81.02,487.83 L80.53,488.40 L80.00,488.97 L79.45,489.53 L78.90,490.10 L78.31,490.67 L77.68,491.23 L77.02,491.80 L76.37,492.37 L75.75,492.93 L75.20,493.50 L74.71,494.07 L74.24,494.64 L73.81,495.22 L73.43,495.79 L73.09,496.35 L72.80,496.90 L72.58,497.40 L72.43,497.85 L72.32,498.29 L72.24,498.77 L72.17,499.32 L72.10,500.00 L72.03,500.78 L71.97,501.61 L71.93,502.53 L71.89,503.54 L71.85,504.66 L71.80,505.90 L71.75,507.37 L71.70,509.06 L71.64,510.87 L71.58,512.66 L71.50,514.31 L71.40,515.70 L71.26,516.84 L71.10,517.82 L70.92,518.67 L70.73,519.39 L70.56,520.00 L70.40,520.50 L70.26,520.86 L70.12,521.06 L69.99,521.15 L69.87,521.17 L69.77,521.17 L69.70,521.20 L69.10,521.20 L69.03,521.17 L68.93,521.17 L68.81,521.15 L68.68,521.06 L68.54,520.86 L68.40,520.50 L68.24,520.00 L68.07,519.39 L67.88,518.67 L67.70,517.82 L67.54,516.84 L67.40,515.70 L67.30,514.31 L67.22,512.66 L67.16,510.87 L67.10,509.06 L67.05,507.37 L67.00,505.90 L66.95,504.66 L66.91,503.54 L66.87,502.53 L66.83,501.61 L66.77,500.78 L66.70,500.00 L66.63,499.32 L66.56,498.77 L66.48,498.29 L66.37,497.85 L66.22,497.40 L66.00,496.90 L65.71,496.35 L65.37,495.79 L64.99,495.22 L64.56,494.64 L64.09,494.07 L63.60,493.50 L63.05,492.93 L62.43,492.37 L61.78,491.80 L61.12,491.23 L60.49,490.67 L59.90,490.10 L59.35,489.53 L58.80,488.97 L58.27,488.40 L57.78,487.83 L57.35,487.27 L57.00,486.70 L56.72,486.13 L56.49,485.57 L56.33,485.00 L56.22,484.43 L56.18,483.87 L56.20,483.30 L56.30,482.73 L56.47,482.17 L56.71,481.60 L57.00,481.03 L57.33,480.47 L57.70,479.90 L58.12,479.33 L58.60,478.76 L59.13,478.19 L59.68,477.63 L60.24,477.06 L60.80,476.50 L61.37,475.95 L61.96,475.40 L62.56,474.85 L63.16,474.30 L63.75,473.75 L64.30,473.20 L64.84,472.63 L65.38,472.03 L65.91,471.44 L66.40,470.86 L66.83,470.30 L67.20,469.80 L67.48,469.35 L67.68,468.94 L67.83,468.57 L67.94,468.21 L68.06,467.86 L68.20,467.50 L68.37,467.11 L68.54,466.71 L68.71,466.31 L68.87,465.94 L69.00,465.63 L69.10,465.40Z" fill="none" stroke="#858585" stroke-width="0.75"/>
<line x1="69.4" y1="476.5" x2="69.4" y2="496.9" stroke="#3a3a3a" stroke-width="0.85"/>
<circle cx="69.4" cy="486.7" r="0.9" fill="#000"/>
<clipPath id="cHBEn"><path d="M97.90,469.70 L97.96,469.73 L98.04,469.74 L98.14,469.77 L98.24,469.87 L98.33,470.10 L98.40,470.50 L98.44,471.17 L98.45,472.09 L98.46,473.12 L98.47,474.17 L98.51,475.10 L98.60,475.80 L98.70,476.22 L98.78,476.46 L98.89,476.58 L99.07,476.66 L99.36,476.77 L99.80,477.00 L100.45,477.31 L101.28,477.64 L102.22,478.01 L103.21,478.43 L104.16,478.92 L105.00,479.50 L105.77,480.21 L106.54,481.06 L107.27,481.97 L107.95,482.89 L108.53,483.75 L109.00,484.50 L109.34,485.13 L109.58,485.70 L109.72,486.22 L109.80,486.69 L109.82,487.11 L109.80,487.50 L109.75,487.82 L109.66,488.06 L109.51,488.26 L109.30,488.46 L109.00,488.69 L108.60,489.00 L108.06,489.37 L107.38,489.76 L106.62,490.18 L105.83,490.66 L105.07,491.19 L104.40,491.80 L103.79,492.49 L103.19,493.26 L102.62,494.09 L102.11,494.97 L101.66,495.88 L101.30,496.80 L101.06,497.68 L100.91,498.52 L100.84,499.39 L100.81,500.37 L100.77,501.51 L100.70,502.90 L100.60,504.59 L100.51,506.54 L100.42,508.66 L100.33,510.87 L100.22,513.08 L100.10,515.20 L99.96,517.34 L99.80,519.60 L99.64,521.85 L99.46,523.99 L99.28,525.91 L99.10,527.50 L98.90,528.73 L98.67,529.69 L98.44,530.42 L98.22,530.98 L98.03,531.42 L97.90,531.80 L97.30,531.80 L97.17,531.42 L96.98,530.98 L96.76,530.42 L96.53,529.69 L96.30,528.73 L96.10,527.50 L95.92,525.91 L95.74,523.99 L95.56,521.85 L95.40,519.60 L95.24,517.34 L95.10,515.20 L94.98,513.08 L94.87,510.87 L94.77,508.66 L94.69,506.54 L94.60,504.59 L94.50,502.90 L94.43,501.51 L94.39,500.37 L94.36,499.39 L94.29,498.52 L94.14,497.68 L93.90,496.80 L93.54,495.88 L93.09,494.97 L92.57,494.09 L92.01,493.26 L91.41,492.49 L90.80,491.80 L90.13,491.19 L89.37,490.66 L88.58,490.18 L87.82,489.76 L87.14,489.37 L86.60,489.00 L86.20,488.69 L85.90,488.46 L85.69,488.26 L85.54,488.06 L85.45,487.82 L85.40,487.50 L85.38,487.11 L85.40,486.69 L85.47,486.22 L85.62,485.70 L85.86,485.13 L86.20,484.50 L86.67,483.75 L87.25,482.89 L87.92,481.97 L88.66,481.06 L89.43,480.21 L90.20,479.50 L91.04,478.92 L91.99,478.43 L92.97,478.01 L93.92,477.64 L94.75,477.31 L95.40,477.00 L95.84,476.77 L96.13,476.66 L96.31,476.58 L96.42,476.46 L96.50,476.22 L96.60,475.80 L96.69,475.10 L96.73,474.17 L96.74,473.12 L96.75,472.09 L96.76,471.17 L96.80,470.50 L96.87,470.10 L96.96,469.87 L97.06,469.77 L97.16,469.74 L97.24,469.73 L97.30,469.70Z"/></clipPath>
<path d="M97.90,469.70 L97.96,469.73 L98.04,469.74 L98.14,469.77 L98.24,469.87 L98.33,470.10 L98.40,470.50 L98.44,471.17 L98.45,472.09 L98.46,473.12 L98.47,474.17 L98.51,475.10 L98.60,475.80 L98.70,476.22 L98.78,476.46 L98.89,476.58 L99.07,476.66 L99.36,476.77 L99.80,477.00 L100.45,477.31 L101.28,477.64 L102.22,478.01 L103.21,478.43 L104.16,478.92 L105.00,479.50 L105.77,480.21 L106.54,481.06 L107.27,481.97 L107.95,482.89 L108.53,483.75 L109.00,484.50 L109.34,485.13 L109.58,485.70 L109.72,486.22 L109.80,486.69 L109.82,487.11 L109.80,487.50 L109.75,487.82 L109.66,488.06 L109.51,488.26 L109.30,488.46 L109.00,488.69 L108.60,489.00 L108.06,489.37 L107.38,489.76 L106.62,490.18 L105.83,490.66 L105.07,491.19 L104.40,491.80 L103.79,492.49 L103.19,493.26 L102.62,494.09 L102.11,494.97 L101.66,495.88 L101.30,496.80 L101.06,497.68 L100.91,498.52 L100.84,499.39 L100.81,500.37 L100.77,501.51 L100.70,502.90 L100.60,504.59 L100.51,506.54 L100.42,508.66 L100.33,510.87 L100.22,513.08 L100.10,515.20 L99.96,517.34 L99.80,519.60 L99.64,521.85 L99.46,523.99 L99.28,525.91 L99.10,527.50 L98.90,528.73 L98.67,529.69 L98.44,530.42 L98.22,530.98 L98.03,531.42 L97.90,531.80 L97.30,531.80 L97.17,531.42 L96.98,530.98 L96.76,530.42 L96.53,529.69 L96.30,528.73 L96.10,527.50 L95.92,525.91 L95.74,523.99 L95.56,521.85 L95.40,519.60 L95.24,517.34 L95.10,515.20 L94.98,513.08 L94.87,510.87 L94.77,508.66 L94.69,506.54 L94.60,504.59 L94.50,502.90 L94.43,501.51 L94.39,500.37 L94.36,499.39 L94.29,498.52 L94.14,497.68 L93.90,496.80 L93.54,495.88 L93.09,494.97 L92.57,494.09 L92.01,493.26 L91.41,492.49 L90.80,491.80 L90.13,491.19 L89.37,490.66 L88.58,490.18 L87.82,489.76 L87.14,489.37 L86.60,489.00 L86.20,488.69 L85.90,488.46 L85.69,488.26 L85.54,488.06 L85.45,487.82 L85.40,487.50 L85.38,487.11 L85.40,486.69 L85.47,486.22 L85.62,485.70 L85.86,485.13 L86.20,484.50 L86.67,483.75 L87.25,482.89 L87.92,481.97 L88.66,481.06 L89.43,480.21 L90.20,479.50 L91.04,478.92 L91.99,478.43 L92.97,478.01 L93.92,477.64 L94.75,477.31 L95.40,477.00 L95.84,476.77 L96.13,476.66 L96.31,476.58 L96.42,476.46 L96.50,476.22 L96.60,475.80 L96.69,475.10 L96.73,474.17 L96.74,473.12 L96.75,472.09 L96.76,471.17 L96.80,470.50 L96.87,470.10 L96.96,469.87 L97.06,469.77 L97.16,469.74 L97.24,469.73 L97.30,469.70Z" fill="#f6fbf2"/>
<rect x="82.6" y="468.7" width="30" height="64.09999999999997" fill="url(#pn)" clip-path="url(#cHBEn)"/>
<path d="M97.90,469.70 L97.96,469.73 L98.04,469.74 L98.14,469.77 L98.24,469.87 L98.33,470.10 L98.40,470.50 L98.44,471.17 L98.45,472.09 L98.46,473.12 L98.47,474.17 L98.51,475.10 L98.60,475.80 L98.70,476.22 L98.78,476.46 L98.89,476.58 L99.07,476.66 L99.36,476.77 L99.80,477.00 L100.45,477.31 L101.28,477.64 L102.22,478.01 L103.21,478.43 L104.16,478.92 L105.00,479.50 L105.77,480.21 L106.54,481.06 L107.27,481.97 L107.95,482.89 L108.53,483.75 L109.00,484.50 L109.34,485.13 L109.58,485.70 L109.72,486.22 L109.80,486.69 L109.82,487.11 L109.80,487.50 L109.75,487.82 L109.66,488.06 L109.51,488.26 L109.30,488.46 L109.00,488.69 L108.60,489.00 L108.06,489.37 L107.38,489.76 L106.62,490.18 L105.83,490.66 L105.07,491.19 L104.40,491.80 L103.79,492.49 L103.19,493.26 L102.62,494.09 L102.11,494.97 L101.66,495.88 L101.30,496.80 L101.06,497.68 L100.91,498.52 L100.84,499.39 L100.81,500.37 L100.77,501.51 L100.70,502.90 L100.60,504.59 L100.51,506.54 L100.42,508.66 L100.33,510.87 L100.22,513.08 L100.10,515.20 L99.96,517.34 L99.80,519.60 L99.64,521.85 L99.46,523.99 L99.28,525.91 L99.10,527.50 L98.90,528.73 L98.67,529.69 L98.44,530.42 L98.22,530.98 L98.03,531.42 L97.90,531.80 L97.30,531.80 L97.17,531.42 L96.98,530.98 L96.76,530.42 L96.53,529.69 L96.30,528.73 L96.10,527.50 L95.92,525.91 L95.74,523.99 L95.56,521.85 L95.40,519.60 L95.24,517.34 L95.10,515.20 L94.98,513.08 L94.87,510.87 L94.77,508.66 L94.69,506.54 L94.60,504.59 L94.50,502.90 L94.43,501.51 L94.39,500.37 L94.36,499.39 L94.29,498.52 L94.14,497.68 L93.90,496.80 L93.54,495.88 L93.09,494.97 L92.57,494.09 L92.01,493.26 L91.41,492.49 L90.80,491.80 L90.13,491.19 L89.37,490.66 L88.58,490.18 L87.82,489.76 L87.14,489.37 L86.60,489.00 L86.20,488.69 L85.90,488.46 L85.69,488.26 L85.54,488.06 L85.45,487.82 L85.40,487.50 L85.38,487.11 L85.40,486.69 L85.47,486.22 L85.62,485.70 L85.86,485.13 L86.20,484.50 L86.67,483.75 L87.25,482.89 L87.92,481.97 L88.66,481.06 L89.43,480.21 L90.20,479.50 L91.04,478.92 L91.99,478.43 L92.97,478.01 L93.92,477.64 L94.75,477.31 L95.40,477.00 L95.84,476.77 L96.13,476.66 L96.31,476.58 L96.42,476.46 L96.50,476.22 L96.60,475.80 L96.69,475.10 L96.73,474.17 L96.74,473.12 L96.75,472.09 L96.76,471.17 L96.80,470.50 L96.87,470.10 L96.96,469.87 L97.06,469.77 L97.16,469.74 L97.24,469.73 L97.30,469.70Z" fill="none" stroke="#9aa394" stroke-width="0.75"/>
<line x1="97.6" y1="480.8" x2="97.6" y2="506.6" stroke="#3a3a3a" stroke-width="0.85"/>
<circle cx="97.6" cy="493.7" r="0.9" fill="#000"/>
<clipPath id="cHBG1g"><path d="M148.10,480.90 L148.23,481.51 L148.40,482.37 L148.60,483.39 L148.83,484.46 L149.06,485.49 L149.30,486.40 L149.53,487.18 L149.76,487.90 L150.00,488.58 L150.26,489.25 L150.56,489.92 L150.90,490.60 L151.31,491.28 L151.77,491.95 L152.27,492.62 L152.77,493.30 L153.26,494.02 L153.70,494.80 L154.11,495.64 L154.52,496.53 L154.91,497.46 L155.26,498.41 L155.56,499.36 L155.80,500.30 L155.97,501.23 L156.08,502.16 L156.14,503.09 L156.16,504.03 L156.15,504.97 L156.10,505.90 L156.00,506.85 L155.84,507.82 L155.64,508.79 L155.43,509.74 L155.24,510.65 L155.10,511.50 L154.98,512.27 L154.85,512.96 L154.74,513.61 L154.67,514.26 L154.69,514.94 L154.80,515.70 L155.04,516.54 L155.39,517.43 L155.81,518.36 L156.27,519.31 L156.75,520.26 L157.20,521.20 L157.66,522.15 L158.17,523.14 L158.69,524.12 L159.19,525.09 L159.63,525.99 L160.00,526.80 L160.43,527.54 L160.98,528.23 L161.48,528.86 L161.76,529.42 L161.66,529.90 L161.00,530.30 L159.51,530.59 L157.25,530.77 L154.61,530.87 L151.96,530.92 L149.66,530.96 L148.10,531.00 L147.50,531.00 L145.94,530.96 L143.64,530.92 L140.99,530.87 L138.35,530.77 L136.09,530.59 L134.60,530.30 L133.94,529.90 L133.84,529.42 L134.12,528.86 L134.62,528.23 L135.17,527.54 L135.60,526.80 L135.97,525.99 L136.41,525.09 L136.91,524.12 L137.43,523.14 L137.94,522.15 L138.40,521.20 L138.85,520.26 L139.33,519.31 L139.79,518.36 L140.21,517.43 L140.56,516.54 L140.80,515.70 L140.91,514.94 L140.93,514.26 L140.86,513.61 L140.75,512.96 L140.62,512.27 L140.50,511.50 L140.36,510.65 L140.17,509.74 L139.96,508.79 L139.76,507.82 L139.60,506.85 L139.50,505.90 L139.45,504.97 L139.44,504.03 L139.46,503.09 L139.52,502.16 L139.63,501.23 L139.80,500.30 L140.04,499.36 L140.34,498.41 L140.69,497.46 L141.08,496.53 L141.49,495.64 L141.90,494.80 L142.34,494.02 L142.83,493.30 L143.33,492.62 L143.83,491.95 L144.29,491.28 L144.70,490.60 L145.04,489.92 L145.34,489.25 L145.60,488.58 L145.84,487.90 L146.07,487.18 L146.30,486.40 L146.54,485.49 L146.77,484.46 L147.00,483.39 L147.20,482.37 L147.37,481.51 L147.50,480.90Z"/></clipPath>
<path d="M148.10,480.90 L148.23,481.51 L148.40,482.37 L148.60,483.39 L148.83,484.46 L149.06,485.49 L149.30,486.40 L149.53,487.18 L149.76,487.90 L150.00,488.58 L150.26,489.25 L150.56,489.92 L150.90,490.60 L151.31,491.28 L151.77,491.95 L152.27,492.62 L152.77,493.30 L153.26,494.02 L153.70,494.80 L154.11,495.64 L154.52,496.53 L154.91,497.46 L155.26,498.41 L155.56,499.36 L155.80,500.30 L155.97,501.23 L156.08,502.16 L156.14,503.09 L156.16,504.03 L156.15,504.97 L156.10,505.90 L156.00,506.85 L155.84,507.82 L155.64,508.79 L155.43,509.74 L155.24,510.65 L155.10,511.50 L154.98,512.27 L154.85,512.96 L154.74,513.61 L154.67,514.26 L154.69,514.94 L154.80,515.70 L155.04,516.54 L155.39,517.43 L155.81,518.36 L156.27,519.31 L156.75,520.26 L157.20,521.20 L157.66,522.15 L158.17,523.14 L158.69,524.12 L159.19,525.09 L159.63,525.99 L160.00,526.80 L160.43,527.54 L160.98,528.23 L161.48,528.86 L161.76,529.42 L161.66,529.90 L161.00,530.30 L159.51,530.59 L157.25,530.77 L154.61,530.87 L151.96,530.92 L149.66,530.96 L148.10,531.00 L147.50,531.00 L145.94,530.96 L143.64,530.92 L140.99,530.87 L138.35,530.77 L136.09,530.59 L134.60,530.30 L133.94,529.90 L133.84,529.42 L134.12,528.86 L134.62,528.23 L135.17,527.54 L135.60,526.80 L135.97,525.99 L136.41,525.09 L136.91,524.12 L137.43,523.14 L137.94,522.15 L138.40,521.20 L138.85,520.26 L139.33,519.31 L139.79,518.36 L140.21,517.43 L140.56,516.54 L140.80,515.70 L140.91,514.94 L140.93,514.26 L140.86,513.61 L140.75,512.96 L140.62,512.27 L140.50,511.50 L140.36,510.65 L140.17,509.74 L139.96,508.79 L139.76,507.82 L139.60,506.85 L139.50,505.90 L139.45,504.97 L139.44,504.03 L139.46,503.09 L139.52,502.16 L139.63,501.23 L139.80,500.30 L140.04,499.36 L140.34,498.41 L140.69,497.46 L141.08,496.53 L141.49,495.64 L141.90,494.80 L142.34,494.02 L142.83,493.30 L143.33,492.62 L143.83,491.95 L144.29,491.28 L144.70,490.60 L145.04,489.92 L145.34,489.25 L145.60,488.58 L145.84,487.90 L146.07,487.18 L146.30,486.40 L146.54,485.49 L146.77,484.46 L147.00,483.39 L147.20,482.37 L147.37,481.51 L147.50,480.90Z" fill="#fff"/>
<rect x="132.8" y="479.9" width="30" height="52.10000000000002" fill="url(#pg)" clip-path="url(#cHBG1g)"/>
<path d="M148.10,480.90 L148.23,481.51 L148.40,482.37 L148.60,483.39 L148.83,484.46 L149.06,485.49 L149.30,486.40 L149.53,487.18 L149.76,487.90 L150.00,488.58 L150.26,489.25 L150.56,489.92 L150.90,490.60 L151.31,491.28 L151.77,491.95 L152.27,492.62 L152.77,493.30 L153.26,494.02 L153.70,494.80 L154.11,495.64 L154.52,496.53 L154.91,497.46 L155.26,498.41 L155.56,499.36 L155.80,500.30 L155.97,501.23 L156.08,502.16 L156.14,503.09 L156.16,504.03 L156.15,504.97 L156.10,505.90 L156.00,506.85 L155.84,507.82 L155.64,508.79 L155.43,509.74 L155.24,510.65 L155.10,511.50 L154.98,512.27 L154.85,512.96 L154.74,513.61 L154.67,514.26 L154.69,514.94 L154.80,515.70 L155.04,516.54 L155.39,517.43 L155.81,518.36 L156.27,519.31 L156.75,520.26 L157.20,521.20 L157.66,522.15 L158.17,523.14 L158.69,524.12 L159.19,525.09 L159.63,525.99 L160.00,526.80 L160.43,527.54 L160.98,528.23 L161.48,528.86 L161.76,529.42 L161.66,529.90 L161.00,530.30 L159.51,530.59 L157.25,530.77 L154.61,530.87 L151.96,530.92 L149.66,530.96 L148.10,531.00 L147.50,531.00 L145.94,530.96 L143.64,530.92 L140.99,530.87 L138.35,530.77 L136.09,530.59 L134.60,530.30 L133.94,529.90 L133.84,529.42 L134.12,528.86 L134.62,528.23 L135.17,527.54 L135.60,526.80 L135.97,525.99 L136.41,525.09 L136.91,524.12 L137.43,523.14 L137.94,522.15 L138.40,521.20 L138.85,520.26 L139.33,519.31 L139.79,518.36 L140.21,517.43 L140.56,516.54 L140.80,515.70 L140.91,514.94 L140.93,514.26 L140.86,513.61 L140.75,512.96 L140.62,512.27 L140.50,511.50 L140.36,510.65 L140.17,509.74 L139.96,508.79 L139.76,507.82 L139.60,506.85 L139.50,505.90 L139.45,504.97 L139.44,504.03 L139.46,503.09 L139.52,502.16 L139.63,501.23 L139.80,500.30 L140.04,499.36 L140.34,498.41 L140.69,497.46 L141.08,496.53 L141.49,495.64 L141.90,494.80 L142.34,494.02 L142.83,493.30 L143.33,492.62 L143.83,491.95 L144.29,491.28 L144.70,490.60 L145.04,489.92 L145.34,489.25 L145.60,488.58 L145.84,487.90 L146.07,487.18 L146.30,486.40 L146.54,485.49 L146.77,484.46 L147.00,483.39 L147.20,482.37 L147.37,481.51 L147.50,480.90Z" fill="none" stroke="#858585" stroke-width="0.75"/>
<line x1="147.8" y1="503.1" x2="147.8" y2="528.2" stroke="#3a3a3a" stroke-width="0.85"/>
<circle cx="147.8" cy="516.3" r="0.9" fill="#000"/>
<clipPath id="cHBG1n"><path d="M175.90,486.30 L176.28,486.30 L176.82,486.28 L177.46,486.26 L178.10,486.27 L178.67,486.31 L179.10,486.40 L179.34,486.53 L179.46,486.67 L179.50,486.84 L179.53,487.08 L179.61,487.39 L179.80,487.80 L180.08,488.32 L180.40,488.94 L180.76,489.64 L181.18,490.39 L181.66,491.19 L182.20,492.00 L182.86,492.87 L183.66,493.82 L184.51,494.81 L185.35,495.79 L186.11,496.74 L186.70,497.60 L187.15,498.35 L187.50,499.02 L187.77,499.65 L187.96,500.28 L188.06,500.95 L188.10,501.70 L188.05,502.55 L187.92,503.46 L187.71,504.41 L187.43,505.38 L187.09,506.35 L186.70,507.30 L186.20,508.23 L185.58,509.17 L184.90,510.11 L184.23,511.04 L183.64,511.97 L183.20,512.90 L182.92,513.81 L182.74,514.69 L182.64,515.56 L182.60,516.46 L182.60,517.40 L182.60,518.40 L182.65,519.50 L182.77,520.70 L182.92,521.94 L183.07,523.17 L183.18,524.34 L183.20,525.40 L183.19,526.39 L183.18,527.36 L183.13,528.27 L182.99,529.09 L182.69,529.78 L182.20,530.30 L181.38,530.61 L180.26,530.72 L178.99,530.71 L177.73,530.62 L176.65,530.53 L175.90,530.50 L175.30,530.50 L174.55,530.53 L173.47,530.62 L172.21,530.71 L170.94,530.72 L169.82,530.61 L169.00,530.30 L168.51,529.78 L168.21,529.09 L168.07,528.27 L168.02,527.36 L168.01,526.39 L168.00,525.40 L168.02,524.34 L168.13,523.17 L168.28,521.94 L168.43,520.70 L168.55,519.50 L168.60,518.40 L168.60,517.40 L168.60,516.46 L168.56,515.56 L168.46,514.69 L168.28,513.81 L168.00,512.90 L167.56,511.97 L166.97,511.04 L166.30,510.11 L165.62,509.17 L165.00,508.23 L164.50,507.30 L164.11,506.35 L163.77,505.38 L163.49,504.41 L163.28,503.46 L163.15,502.55 L163.10,501.70 L163.14,500.95 L163.24,500.28 L163.43,499.65 L163.70,499.02 L164.05,498.35 L164.50,497.60 L165.09,496.74 L165.85,495.79 L166.69,494.81 L167.54,493.82 L168.34,492.87 L169.00,492.00 L169.54,491.19 L170.02,490.39 L170.44,489.64 L170.80,488.94 L171.12,488.32 L171.40,487.80 L171.59,487.39 L171.67,487.08 L171.70,486.84 L171.74,486.67 L171.86,486.53 L172.10,486.40 L172.53,486.31 L173.10,486.27 L173.74,486.26 L174.38,486.28 L174.92,486.30 L175.30,486.30Z"/></clipPath>
<path d="M175.90,486.30 L176.28,486.30 L176.82,486.28 L177.46,486.26 L178.10,486.27 L178.67,486.31 L179.10,486.40 L179.34,486.53 L179.46,486.67 L179.50,486.84 L179.53,487.08 L179.61,487.39 L179.80,487.80 L180.08,488.32 L180.40,488.94 L180.76,489.64 L181.18,490.39 L181.66,491.19 L182.20,492.00 L182.86,492.87 L183.66,493.82 L184.51,494.81 L185.35,495.79 L186.11,496.74 L186.70,497.60 L187.15,498.35 L187.50,499.02 L187.77,499.65 L187.96,500.28 L188.06,500.95 L188.10,501.70 L188.05,502.55 L187.92,503.46 L187.71,504.41 L187.43,505.38 L187.09,506.35 L186.70,507.30 L186.20,508.23 L185.58,509.17 L184.90,510.11 L184.23,511.04 L183.64,511.97 L183.20,512.90 L182.92,513.81 L182.74,514.69 L182.64,515.56 L182.60,516.46 L182.60,517.40 L182.60,518.40 L182.65,519.50 L182.77,520.70 L182.92,521.94 L183.07,523.17 L183.18,524.34 L183.20,525.40 L183.19,526.39 L183.18,527.36 L183.13,528.27 L182.99,529.09 L182.69,529.78 L182.20,530.30 L181.38,530.61 L180.26,530.72 L178.99,530.71 L177.73,530.62 L176.65,530.53 L175.90,530.50 L175.30,530.50 L174.55,530.53 L173.47,530.62 L172.21,530.71 L170.94,530.72 L169.82,530.61 L169.00,530.30 L168.51,529.78 L168.21,529.09 L168.07,528.27 L168.02,527.36 L168.01,526.39 L168.00,525.40 L168.02,524.34 L168.13,523.17 L168.28,521.94 L168.43,520.70 L168.55,519.50 L168.60,518.40 L168.60,517.40 L168.60,516.46 L168.56,515.56 L168.46,514.69 L168.28,513.81 L168.00,512.90 L167.56,511.97 L166.97,511.04 L166.30,510.11 L165.62,509.17 L165.00,508.23 L164.50,507.30 L164.11,506.35 L163.77,505.38 L163.49,504.41 L163.28,503.46 L163.15,502.55 L163.10,501.70 L163.14,500.95 L163.24,500.28 L163.43,499.65 L163.70,499.02 L164.05,498.35 L164.50,497.60 L165.09,496.74 L165.85,495.79 L166.69,494.81 L167.54,493.82 L168.34,492.87 L169.00,492.00 L169.54,491.19 L170.02,490.39 L170.44,489.64 L170.80,488.94 L171.12,488.32 L171.40,487.80 L171.59,487.39 L171.67,487.08 L171.70,486.84 L171.74,486.67 L171.86,486.53 L172.10,486.40 L172.53,486.31 L173.10,486.27 L173.74,486.26 L174.38,486.28 L174.92,486.30 L175.30,486.30Z" fill="#f6fbf2"/>
<rect x="160.6" y="485.3" width="30" height="46.19999999999999" fill="url(#pn)" clip-path="url(#cHBG1n)"/>
<path d="M175.90,486.30 L176.28,486.30 L176.82,486.28 L177.46,486.26 L178.10,486.27 L178.67,486.31 L179.10,486.40 L179.34,486.53 L179.46,486.67 L179.50,486.84 L179.53,487.08 L179.61,487.39 L179.80,487.80 L180.08,488.32 L180.40,488.94 L180.76,489.64 L181.18,490.39 L181.66,491.19 L182.20,492.00 L182.86,492.87 L183.66,493.82 L184.51,494.81 L185.35,495.79 L186.11,496.74 L186.70,497.60 L187.15,498.35 L187.50,499.02 L187.77,499.65 L187.96,500.28 L188.06,500.95 L188.10,501.70 L188.05,502.55 L187.92,503.46 L187.71,504.41 L187.43,505.38 L187.09,506.35 L186.70,507.30 L186.20,508.23 L185.58,509.17 L184.90,510.11 L184.23,511.04 L183.64,511.97 L183.20,512.90 L182.92,513.81 L182.74,514.69 L182.64,515.56 L182.60,516.46 L182.60,517.40 L182.60,518.40 L182.65,519.50 L182.77,520.70 L182.92,521.94 L183.07,523.17 L183.18,524.34 L183.20,525.40 L183.19,526.39 L183.18,527.36 L183.13,528.27 L182.99,529.09 L182.69,529.78 L182.20,530.30 L181.38,530.61 L180.26,530.72 L178.99,530.71 L177.73,530.62 L176.65,530.53 L175.90,530.50 L175.30,530.50 L174.55,530.53 L173.47,530.62 L172.21,530.71 L170.94,530.72 L169.82,530.61 L169.00,530.30 L168.51,529.78 L168.21,529.09 L168.07,528.27 L168.02,527.36 L168.01,526.39 L168.00,525.40 L168.02,524.34 L168.13,523.17 L168.28,521.94 L168.43,520.70 L168.55,519.50 L168.60,518.40 L168.60,517.40 L168.60,516.46 L168.56,515.56 L168.46,514.69 L168.28,513.81 L168.00,512.90 L167.56,511.97 L166.97,511.04 L166.30,510.11 L165.62,509.17 L165.00,508.23 L164.50,507.30 L164.11,506.35 L163.77,505.38 L163.49,504.41 L163.28,503.46 L163.15,502.55 L163.10,501.70 L163.14,500.95 L163.24,500.28 L163.43,499.65 L163.70,499.02 L164.05,498.35 L164.50,497.60 L165.09,496.74 L165.85,495.79 L166.69,494.81 L167.54,493.82 L168.34,492.87 L169.00,492.00 L169.54,491.19 L170.02,490.39 L170.44,489.64 L170.80,488.94 L171.12,488.32 L171.40,487.80 L171.59,487.39 L171.67,487.08 L171.70,486.84 L171.74,486.67 L171.86,486.53 L172.10,486.40 L172.53,486.31 L173.10,486.27 L173.74,486.26 L174.38,486.28 L174.92,486.30 L175.30,486.30Z" fill="none" stroke="#9aa394" stroke-width="0.75"/>
<line x1="175.6" y1="496.9" x2="175.6" y2="521.2" stroke="#3a3a3a" stroke-width="0.85"/>
<circle cx="175.6" cy="508" r="0.9" fill="#000"/>
<clipPath id="cHBG2g"><path d="M226.00,464.20 L226.13,464.65 L226.29,465.29 L226.48,466.03 L226.73,466.83 L227.03,467.60 L227.40,468.30 L227.85,468.92 L228.39,469.51 L228.97,470.09 L229.60,470.66 L230.25,471.22 L230.90,471.80 L231.57,472.36 L232.27,472.89 L233.00,473.42 L233.73,473.98 L234.43,474.60 L235.10,475.30 L235.77,476.13 L236.46,477.07 L237.14,478.06 L237.75,479.07 L238.25,480.03 L238.60,480.90 L238.80,481.67 L238.88,482.37 L238.86,483.04 L238.73,483.68 L238.51,484.33 L238.20,485.00 L237.78,485.69 L237.25,486.39 L236.62,487.09 L235.93,487.80 L235.18,488.50 L234.40,489.20 L233.52,489.91 L232.52,490.63 L231.46,491.34 L230.44,492.05 L229.52,492.74 L228.80,493.40 L228.29,494.01 L227.92,494.57 L227.67,495.11 L227.49,495.66 L227.35,496.25 L227.20,496.90 L227.07,497.57 L226.99,498.24 L226.95,498.95 L226.93,499.73 L226.92,500.64 L226.90,501.70 L226.89,503.07 L226.91,504.73 L226.94,506.51 L226.96,508.23 L226.95,509.72 L226.90,510.80 L226.79,511.41 L226.63,511.68 L226.45,511.72 L226.27,511.63 L226.11,511.52 L226.00,511.50 L225.40,511.50 L225.29,511.52 L225.13,511.63 L224.95,511.72 L224.77,511.68 L224.61,511.41 L224.50,510.80 L224.45,509.72 L224.44,508.23 L224.46,506.51 L224.49,504.73 L224.51,503.07 L224.50,501.70 L224.48,500.64 L224.47,499.73 L224.45,498.95 L224.41,498.24 L224.33,497.57 L224.20,496.90 L224.05,496.25 L223.91,495.66 L223.73,495.11 L223.48,494.57 L223.11,494.01 L222.60,493.40 L221.88,492.74 L220.96,492.05 L219.94,491.34 L218.88,490.63 L217.88,489.91 L217.00,489.20 L216.22,488.50 L215.47,487.80 L214.77,487.09 L214.15,486.39 L213.62,485.69 L213.20,485.00 L212.89,484.33 L212.67,483.68 L212.54,483.04 L212.52,482.37 L212.60,481.67 L212.80,480.90 L213.15,480.03 L213.65,479.07 L214.26,478.06 L214.94,477.07 L215.63,476.13 L216.30,475.30 L216.97,474.60 L217.67,473.98 L218.40,473.42 L219.13,472.89 L219.83,472.36 L220.50,471.80 L221.15,471.22 L221.80,470.66 L222.42,470.09 L223.01,469.51 L223.55,468.92 L224.00,468.30 L224.37,467.60 L224.67,466.83 L224.92,466.03 L225.11,465.29 L225.27,464.65 L225.40,464.20Z"/></clipPath>
<path d="M226.00,464.20 L226.13,464.65 L226.29,465.29 L226.48,466.03 L226.73,466.83 L227.03,467.60 L227.40,468.30 L227.85,468.92 L228.39,469.51 L228.97,470.09 L229.60,470.66 L230.25,471.22 L230.90,471.80 L231.57,472.36 L232.27,472.89 L233.00,473.42 L233.73,473.98 L234.43,474.60 L235.10,475.30 L235.77,476.13 L236.46,477.07 L237.14,478.06 L237.75,479.07 L238.25,480.03 L238.60,480.90 L238.80,481.67 L238.88,482.37 L238.86,483.04 L238.73,483.68 L238.51,484.33 L238.20,485.00 L237.78,485.69 L237.25,486.39 L236.62,487.09 L235.93,487.80 L235.18,488.50 L234.40,489.20 L233.52,489.91 L232.52,490.63 L231.46,491.34 L230.44,492.05 L229.52,492.74 L228.80,493.40 L228.29,494.01 L227.92,494.57 L227.67,495.11 L227.49,495.66 L227.35,496.25 L227.20,496.90 L227.07,497.57 L226.99,498.24 L226.95,498.95 L226.93,499.73 L226.92,500.64 L226.90,501.70 L226.89,503.07 L226.91,504.73 L226.94,506.51 L226.96,508.23 L226.95,509.72 L226.90,510.80 L226.79,511.41 L226.63,511.68 L226.45,511.72 L226.27,511.63 L226.11,511.52 L226.00,511.50 L225.40,511.50 L225.29,511.52 L225.13,511.63 L224.95,511.72 L224.77,511.68 L224.61,511.41 L224.50,510.80 L224.45,509.72 L224.44,508.23 L224.46,506.51 L224.49,504.73 L224.51,503.07 L224.50,501.70 L224.48,500.64 L224.47,499.73 L224.45,498.95 L224.41,498.24 L224.33,497.57 L224.20,496.90 L224.05,496.25 L223.91,495.66 L223.73,495.11 L223.48,494.57 L223.11,494.01 L222.60,493.40 L221.88,492.74 L220.96,492.05 L219.94,491.34 L218.88,490.63 L217.88,489.91 L217.00,489.20 L216.22,488.50 L215.47,487.80 L214.77,487.09 L214.15,486.39 L213.62,485.69 L213.20,485.00 L212.89,484.33 L212.67,483.68 L212.54,483.04 L212.52,482.37 L212.60,481.67 L212.80,480.90 L213.15,480.03 L213.65,479.07 L214.26,478.06 L214.94,477.07 L215.63,476.13 L216.30,475.30 L216.97,474.60 L217.67,473.98 L218.40,473.42 L219.13,472.89 L219.83,472.36 L220.50,471.80 L221.15,471.22 L221.80,470.66 L222.42,470.09 L223.01,469.51 L223.55,468.92 L224.00,468.30 L224.37,467.60 L224.67,466.83 L224.92,466.03 L225.11,465.29 L225.27,464.65 L225.40,464.20Z" fill="#fff"/>
<rect x="210.7" y="463.2" width="30" height="49.30000000000001" fill="url(#pg)" clip-path="url(#cHBG2g)"/>
<path d="M226.00,464.20 L226.13,464.65 L226.29,465.29 L226.48,466.03 L226.73,466.83 L227.03,467.60 L227.40,468.30 L227.85,468.92 L228.39,469.51 L228.97,470.09 L229.60,470.66 L230.25,471.22 L230.90,471.80 L231.57,472.36 L232.27,472.89 L233.00,473.42 L233.73,473.98 L234.43,474.60 L235.10,475.30 L235.77,476.13 L236.46,477.07 L237.14,478.06 L237.75,479.07 L238.25,480.03 L238.60,480.90 L238.80,481.67 L238.88,482.37 L238.86,483.04 L238.73,483.68 L238.51,484.33 L238.20,485.00 L237.78,485.69 L237.25,486.39 L236.62,487.09 L235.93,487.80 L235.18,488.50 L234.40,489.20 L233.52,489.91 L232.52,490.63 L231.46,491.34 L230.44,492.05 L229.52,492.74 L228.80,493.40 L228.29,494.01 L227.92,494.57 L227.67,495.11 L227.49,495.66 L227.35,496.25 L227.20,496.90 L227.07,497.57 L226.99,498.24 L226.95,498.95 L226.93,499.73 L226.92,500.64 L226.90,501.70 L226.89,503.07 L226.91,504.73 L226.94,506.51 L226.96,508.23 L226.95,509.72 L226.90,510.80 L226.79,511.41 L226.63,511.68 L226.45,511.72 L226.27,511.63 L226.11,511.52 L226.00,511.50 L225.40,511.50 L225.29,511.52 L225.13,511.63 L224.95,511.72 L224.77,511.68 L224.61,511.41 L224.50,510.80 L224.45,509.72 L224.44,508.23 L224.46,506.51 L224.49,504.73 L224.51,503.07 L224.50,501.70 L224.48,500.64 L224.47,499.73 L224.45,498.95 L224.41,498.24 L224.33,497.57 L224.20,496.90 L224.05,496.25 L223.91,495.66 L223.73,495.11 L223.48,494.57 L223.11,494.01 L222.60,493.40 L221.88,492.74 L220.96,492.05 L219.94,491.34 L218.88,490.63 L217.88,489.91 L217.00,489.20 L216.22,488.50 L215.47,487.80 L214.77,487.09 L214.15,486.39 L213.62,485.69 L213.20,485.00 L212.89,484.33 L212.67,483.68 L212.54,483.04 L212.52,482.37 L212.60,481.67 L212.80,480.90 L213.15,480.03 L213.65,479.07 L214.26,478.06 L214.94,477.07 L215.63,476.13 L216.30,475.30 L216.97,474.60 L217.67,473.98 L218.40,473.42 L219.13,472.89 L219.83,472.36 L220.50,471.80 L221.15,471.22 L221.80,470.66 L222.42,470.09 L223.01,469.51 L223.55,468.92 L224.00,468.30 L224.37,467.60 L224.67,466.83 L224.92,466.03 L225.11,465.29 L225.27,464.65 L225.40,464.20Z" fill="none" stroke="#858585" stroke-width="0.75"/>
<line x1="225.7" y1="476" x2="225.7" y2="489.9" stroke="#3a3a3a" stroke-width="0.85"/>
<circle cx="225.7" cy="483.7" r="0.9" fill="#000"/>
<clipPath id="cHBG2n"><path d="M254.20,462.10 L254.36,462.64 L254.57,463.40 L254.83,464.29 L255.10,465.24 L255.37,466.17 L255.60,467.00 L255.80,467.74 L255.98,468.47 L256.15,469.18 L256.32,469.86 L256.50,470.50 L256.70,471.10 L256.88,471.63 L257.03,472.08 L257.19,472.49 L257.39,472.91 L257.68,473.37 L258.10,473.90 L258.68,474.51 L259.40,475.17 L260.20,475.87 L261.04,476.60 L261.85,477.34 L262.60,478.10 L263.35,478.89 L264.16,479.71 L264.96,480.56 L265.65,481.40 L266.16,482.22 L266.40,483.00 L266.34,483.74 L266.03,484.47 L265.54,485.18 L264.93,485.86 L264.26,486.50 L263.60,487.10 L262.90,487.64 L262.10,488.13 L261.24,488.58 L260.37,489.01 L259.54,489.45 L258.80,489.90 L258.13,490.36 L257.48,490.81 L256.88,491.27 L256.32,491.73 L255.82,492.20 L255.40,492.70 L255.06,492.85 L254.79,492.56 L254.59,492.29 L254.43,492.48 L254.31,493.57 L254.20,496.00 L254.20,500.49 L254.20,506.82 L254.20,514.06 L254.20,521.24 L254.20,527.44 L254.15,531.70 L253.65,531.70 L253.60,527.44 L253.60,521.24 L253.60,514.06 L253.60,506.82 L253.60,500.49 L253.60,496.00 L253.49,493.57 L253.37,492.48 L253.21,492.29 L253.01,492.56 L252.74,492.85 L252.40,492.70 L251.98,492.20 L251.48,491.73 L250.93,491.27 L250.32,490.81 L249.67,490.36 L249.00,489.90 L248.26,489.45 L247.43,489.01 L246.56,488.58 L245.70,488.13 L244.90,487.64 L244.20,487.10 L243.54,486.50 L242.87,485.86 L242.26,485.18 L241.77,484.47 L241.46,483.74 L241.40,483.00 L241.64,482.22 L242.15,481.40 L242.84,480.56 L243.64,479.71 L244.45,478.89 L245.20,478.10 L245.95,477.34 L246.76,476.60 L247.60,475.87 L248.40,475.17 L249.12,474.51 L249.70,473.90 L250.12,473.37 L250.41,472.91 L250.61,472.49 L250.77,472.08 L250.92,471.63 L251.10,471.10 L251.30,470.50 L251.48,469.86 L251.65,469.18 L251.82,468.47 L252.00,467.74 L252.20,467.00 L252.43,466.17 L252.70,465.24 L252.97,464.29 L253.23,463.40 L253.44,462.64 L253.60,462.10Z"/></clipPath>
<path d="M254.20,462.10 L254.36,462.64 L254.57,463.40 L254.83,464.29 L255.10,465.24 L255.37,466.17 L255.60,467.00 L255.80,467.74 L255.98,468.47 L256.15,469.18 L256.32,469.86 L256.50,470.50 L256.70,471.10 L256.88,471.63 L257.03,472.08 L257.19,472.49 L257.39,472.91 L257.68,473.37 L258.10,473.90 L258.68,474.51 L259.40,475.17 L260.20,475.87 L261.04,476.60 L261.85,477.34 L262.60,478.10 L263.35,478.89 L264.16,479.71 L264.96,480.56 L265.65,481.40 L266.16,482.22 L266.40,483.00 L266.34,483.74 L266.03,484.47 L265.54,485.18 L264.93,485.86 L264.26,486.50 L263.60,487.10 L262.90,487.64 L262.10,488.13 L261.24,488.58 L260.37,489.01 L259.54,489.45 L258.80,489.90 L258.13,490.36 L257.48,490.81 L256.88,491.27 L256.32,491.73 L255.82,492.20 L255.40,492.70 L255.06,492.85 L254.79,492.56 L254.59,492.29 L254.43,492.48 L254.31,493.57 L254.20,496.00 L254.20,500.49 L254.20,506.82 L254.20,514.06 L254.20,521.24 L254.20,527.44 L254.15,531.70 L253.65,531.70 L253.60,527.44 L253.60,521.24 L253.60,514.06 L253.60,506.82 L253.60,500.49 L253.60,496.00 L253.49,493.57 L253.37,492.48 L253.21,492.29 L253.01,492.56 L252.74,492.85 L252.40,492.70 L251.98,492.20 L251.48,491.73 L250.93,491.27 L250.32,490.81 L249.67,490.36 L249.00,489.90 L248.26,489.45 L247.43,489.01 L246.56,488.58 L245.70,488.13 L244.90,487.64 L244.20,487.10 L243.54,486.50 L242.87,485.86 L242.26,485.18 L241.77,484.47 L241.46,483.74 L241.40,483.00 L241.64,482.22 L242.15,481.40 L242.84,480.56 L243.64,479.71 L244.45,478.89 L245.20,478.10 L245.95,477.34 L246.76,476.60 L247.60,475.87 L248.40,475.17 L249.12,474.51 L249.70,473.90 L250.12,473.37 L250.41,472.91 L250.61,472.49 L250.77,472.08 L250.92,471.63 L251.10,471.10 L251.30,470.50 L251.48,469.86 L251.65,469.18 L251.82,468.47 L252.00,467.74 L252.20,467.00 L252.43,466.17 L252.70,465.24 L252.97,464.29 L253.23,463.40 L253.44,462.64 L253.60,462.10Z" fill="#f6fbf2"/>
<rect x="238.9" y="461.1" width="30" height="71.60000000000002" fill="url(#pn)" clip-path="url(#cHBG2n)"/>
<path d="M254.20,462.10 L254.36,462.64 L254.57,463.40 L254.83,464.29 L255.10,465.24 L255.37,466.17 L255.60,467.00 L255.80,467.74 L255.98,468.47 L256.15,469.18 L256.32,469.86 L256.50,470.50 L256.70,471.10 L256.88,471.63 L257.03,472.08 L257.19,472.49 L257.39,472.91 L257.68,473.37 L258.10,473.90 L258.68,474.51 L259.40,475.17 L260.20,475.87 L261.04,476.60 L261.85,477.34 L262.60,478.10 L263.35,478.89 L264.16,479.71 L264.96,480.56 L265.65,481.40 L266.16,482.22 L266.40,483.00 L266.34,483.74 L266.03,484.47 L265.54,485.18 L264.93,485.86 L264.26,486.50 L263.60,487.10 L262.90,487.64 L262.10,488.13 L261.24,488.58 L260.37,489.01 L259.54,489.45 L258.80,489.90 L258.13,490.36 L257.48,490.81 L256.88,491.27 L256.32,491.73 L255.82,492.20 L255.40,492.70 L255.06,492.85 L254.79,492.56 L254.59,492.29 L254.43,492.48 L254.31,493.57 L254.20,496.00 L254.20,500.49 L254.20,506.82 L254.20,514.06 L254.20,521.24 L254.20,527.44 L254.15,531.70 L253.65,531.70 L253.60,527.44 L253.60,521.24 L253.60,514.06 L253.60,506.82 L253.60,500.49 L253.60,496.00 L253.49,493.57 L253.37,492.48 L253.21,492.29 L253.01,492.56 L252.74,492.85 L252.40,492.70 L251.98,492.20 L251.48,491.73 L250.93,491.27 L250.32,490.81 L249.67,490.36 L249.00,489.90 L248.26,489.45 L247.43,489.01 L246.56,488.58 L245.70,488.13 L244.90,487.64 L244.20,487.10 L243.54,486.50 L242.87,485.86 L242.26,485.18 L241.77,484.47 L241.46,483.74 L241.40,483.00 L241.64,482.22 L242.15,481.40 L242.84,480.56 L243.64,479.71 L244.45,478.89 L245.20,478.10 L245.95,477.34 L246.76,476.60 L247.60,475.87 L248.40,475.17 L249.12,474.51 L249.70,473.90 L250.12,473.37 L250.41,472.91 L250.61,472.49 L250.77,472.08 L250.92,471.63 L251.10,471.10 L251.30,470.50 L251.48,469.86 L251.65,469.18 L251.82,468.47 L252.00,467.74 L252.20,467.00 L252.43,466.17 L252.70,465.24 L252.97,464.29 L253.23,463.40 L253.44,462.64 L253.60,462.10Z" fill="none" stroke="#9aa394" stroke-width="0.75"/>
<line x1="253.9" y1="473.9" x2="253.9" y2="487.8" stroke="#3a3a3a" stroke-width="0.85"/>
<circle cx="253.9" cy="482.3" r="0.9" fill="#000"/>
<clipPath id="cHBDg"><path d="M304.00,483.30 L304.07,483.46 L304.16,483.67 L304.27,483.93 L304.39,484.23 L304.50,484.59 L304.60,485.00 L304.67,485.47 L304.72,485.99 L304.77,486.57 L304.82,487.20 L304.90,487.87 L305.00,488.60 L305.15,489.40 L305.32,490.27 L305.52,491.19 L305.72,492.14 L305.92,493.08 L306.10,494.00 L306.27,494.89 L306.43,495.77 L306.58,496.66 L306.73,497.54 L306.87,498.42 L307.00,499.30 L307.12,500.18 L307.24,501.07 L307.34,501.95 L307.44,502.83 L307.53,503.72 L307.60,504.60 L307.65,505.48 L307.69,506.37 L307.71,507.25 L307.73,508.13 L307.76,509.02 L307.80,509.90 L307.85,510.80 L307.91,511.72 L307.98,512.64 L308.05,513.54 L308.13,514.40 L308.20,515.20 L308.26,515.95 L308.32,516.66 L308.38,517.33 L308.45,517.95 L308.55,518.51 L308.70,519.00 L308.88,519.36 L309.09,519.60 L309.33,519.77 L309.61,519.96 L309.93,520.21 L310.30,520.60 L310.74,521.16 L311.25,521.83 L311.80,522.57 L312.37,523.34 L312.95,524.10 L313.50,524.80 L314.07,525.46 L314.69,526.13 L315.30,526.77 L315.87,527.40 L316.35,527.98 L316.70,528.50 L317.03,528.97 L317.41,529.41 L317.69,529.80 L317.76,530.15 L317.47,530.45 L316.70,530.70 L315.17,530.89 L312.94,531.01 L310.35,531.09 L307.76,531.13 L305.53,531.17 L304.00,531.20 L303.40,531.20 L301.87,531.17 L299.64,531.13 L297.05,531.09 L294.46,531.01 L292.23,530.89 L290.70,530.70 L289.93,530.45 L289.64,530.15 L289.71,529.80 L289.99,529.41 L290.37,528.97 L290.70,528.50 L291.05,527.98 L291.53,527.40 L292.10,526.77 L292.71,526.13 L293.33,525.46 L293.90,524.80 L294.45,524.10 L295.03,523.34 L295.60,522.57 L296.15,521.83 L296.66,521.16 L297.10,520.60 L297.47,520.21 L297.79,519.96 L298.07,519.77 L298.31,519.60 L298.52,519.36 L298.70,519.00 L298.85,518.51 L298.95,517.95 L299.02,517.33 L299.08,516.66 L299.14,515.95 L299.20,515.20 L299.27,514.40 L299.35,513.54 L299.42,512.64 L299.49,511.72 L299.55,510.80 L299.60,509.90 L299.64,509.02 L299.67,508.13 L299.69,507.25 L299.71,506.37 L299.75,505.48 L299.80,504.60 L299.87,503.72 L299.96,502.83 L300.06,501.95 L300.16,501.07 L300.28,500.18 L300.40,499.30 L300.53,498.42 L300.67,497.54 L300.82,496.66 L300.97,495.77 L301.13,494.89 L301.30,494.00 L301.48,493.08 L301.68,492.14 L301.88,491.19 L302.08,490.27 L302.25,489.40 L302.40,488.60 L302.50,487.87 L302.58,487.20 L302.63,486.57 L302.68,485.99 L302.73,485.47 L302.80,485.00 L302.90,484.59 L303.01,484.23 L303.12,483.93 L303.24,483.67 L303.33,483.46 L303.40,483.30Z"/></clipPath>
<path d="M304.00,483.30 L304.07,483.46 L304.16,483.67 L304.27,483.93 L304.39,484.23 L304.50,484.59 L304.60,485.00 L304.67,485.47 L304.72,485.99 L304.77,486.57 L304.82,487.20 L304.90,487.87 L305.00,488.60 L305.15,489.40 L305.32,490.27 L305.52,491.19 L305.72,492.14 L305.92,493.08 L306.10,494.00 L306.27,494.89 L306.43,495.77 L306.58,496.66 L306.73,497.54 L306.87,498.42 L307.00,499.30 L307.12,500.18 L307.24,501.07 L307.34,501.95 L307.44,502.83 L307.53,503.72 L307.60,504.60 L307.65,505.48 L307.69,506.37 L307.71,507.25 L307.73,508.13 L307.76,509.02 L307.80,509.90 L307.85,510.80 L307.91,511.72 L307.98,512.64 L308.05,513.54 L308.13,514.40 L308.20,515.20 L308.26,515.95 L308.32,516.66 L308.38,517.33 L308.45,517.95 L308.55,518.51 L308.70,519.00 L308.88,519.36 L309.09,519.60 L309.33,519.77 L309.61,519.96 L309.93,520.21 L310.30,520.60 L310.74,521.16 L311.25,521.83 L311.80,522.57 L312.37,523.34 L312.95,524.10 L313.50,524.80 L314.07,525.46 L314.69,526.13 L315.30,526.77 L315.87,527.40 L316.35,527.98 L316.70,528.50 L317.03,528.97 L317.41,529.41 L317.69,529.80 L317.76,530.15 L317.47,530.45 L316.70,530.70 L315.17,530.89 L312.94,531.01 L310.35,531.09 L307.76,531.13 L305.53,531.17 L304.00,531.20 L303.40,531.20 L301.87,531.17 L299.64,531.13 L297.05,531.09 L294.46,531.01 L292.23,530.89 L290.70,530.70 L289.93,530.45 L289.64,530.15 L289.71,529.80 L289.99,529.41 L290.37,528.97 L290.70,528.50 L291.05,527.98 L291.53,527.40 L292.10,526.77 L292.71,526.13 L293.33,525.46 L293.90,524.80 L294.45,524.10 L295.03,523.34 L295.60,522.57 L296.15,521.83 L296.66,521.16 L297.10,520.60 L297.47,520.21 L297.79,519.96 L298.07,519.77 L298.31,519.60 L298.52,519.36 L298.70,519.00 L298.85,518.51 L298.95,517.95 L299.02,517.33 L299.08,516.66 L299.14,515.95 L299.20,515.20 L299.27,514.40 L299.35,513.54 L299.42,512.64 L299.49,511.72 L299.55,510.80 L299.60,509.90 L299.64,509.02 L299.67,508.13 L299.69,507.25 L299.71,506.37 L299.75,505.48 L299.80,504.60 L299.87,503.72 L299.96,502.83 L300.06,501.95 L300.16,501.07 L300.28,500.18 L300.40,499.30 L300.53,498.42 L300.67,497.54 L300.82,496.66 L300.97,495.77 L301.13,494.89 L301.30,494.00 L301.48,493.08 L301.68,492.14 L301.88,491.19 L302.08,490.27 L302.25,489.40 L302.40,488.60 L302.50,487.87 L302.58,487.20 L302.63,486.57 L302.68,485.99 L302.73,485.47 L302.80,485.00 L302.90,484.59 L303.01,484.23 L303.12,483.93 L303.24,483.67 L303.33,483.46 L303.40,483.30Z" fill="#fff"/>
<rect x="288.7" y="482.3" width="30" height="49.900000000000034" fill="url(#pg)" clip-path="url(#cHBDg)"/>
<path d="M304.00,483.30 L304.07,483.46 L304.16,483.67 L304.27,483.93 L304.39,484.23 L304.50,484.59 L304.60,485.00 L304.67,485.47 L304.72,485.99 L304.77,486.57 L304.82,487.20 L304.90,487.87 L305.00,488.60 L305.15,489.40 L305.32,490.27 L305.52,491.19 L305.72,492.14 L305.92,493.08 L306.10,494.00 L306.27,494.89 L306.43,495.77 L306.58,496.66 L306.73,497.54 L306.87,498.42 L307.00,499.30 L307.12,500.18 L307.24,501.07 L307.34,501.95 L307.44,502.83 L307.53,503.72 L307.60,504.60 L307.65,505.48 L307.69,506.37 L307.71,507.25 L307.73,508.13 L307.76,509.02 L307.80,509.90 L307.85,510.80 L307.91,511.72 L307.98,512.64 L308.05,513.54 L308.13,514.40 L308.20,515.20 L308.26,515.95 L308.32,516.66 L308.38,517.33 L308.45,517.95 L308.55,518.51 L308.70,519.00 L308.88,519.36 L309.09,519.60 L309.33,519.77 L309.61,519.96 L309.93,520.21 L310.30,520.60 L310.74,521.16 L311.25,521.83 L311.80,522.57 L312.37,523.34 L312.95,524.10 L313.50,524.80 L314.07,525.46 L314.69,526.13 L315.30,526.77 L315.87,527.40 L316.35,527.98 L316.70,528.50 L317.03,528.97 L317.41,529.41 L317.69,529.80 L317.76,530.15 L317.47,530.45 L316.70,530.70 L315.17,530.89 L312.94,531.01 L310.35,531.09 L307.76,531.13 L305.53,531.17 L304.00,531.20 L303.40,531.20 L301.87,531.17 L299.64,531.13 L297.05,531.09 L294.46,531.01 L292.23,530.89 L290.70,530.70 L289.93,530.45 L289.64,530.15 L289.71,529.80 L289.99,529.41 L290.37,528.97 L290.70,528.50 L291.05,527.98 L291.53,527.40 L292.10,526.77 L292.71,526.13 L293.33,525.46 L293.90,524.80 L294.45,524.10 L295.03,523.34 L295.60,522.57 L296.15,521.83 L296.66,521.16 L297.10,520.60 L297.47,520.21 L297.79,519.96 L298.07,519.77 L298.31,519.60 L298.52,519.36 L298.70,519.00 L298.85,518.51 L298.95,517.95 L299.02,517.33 L299.08,516.66 L299.14,515.95 L299.20,515.20 L299.27,514.40 L299.35,513.54 L299.42,512.64 L299.49,511.72 L299.55,510.80 L299.60,509.90 L299.64,509.02 L299.67,508.13 L299.69,507.25 L299.71,506.37 L299.75,505.48 L299.80,504.60 L299.87,503.72 L299.96,502.83 L300.06,501.95 L300.16,501.07 L300.28,500.18 L300.40,499.30 L300.53,498.42 L300.67,497.54 L300.82,496.66 L300.97,495.77 L301.13,494.89 L301.30,494.00 L301.48,493.08 L301.68,492.14 L301.88,491.19 L302.08,490.27 L302.25,489.40 L302.40,488.60 L302.50,487.87 L302.58,487.20 L302.63,486.57 L302.68,485.99 L302.73,485.47 L302.80,485.00 L302.90,484.59 L303.01,484.23 L303.12,483.93 L303.24,483.67 L303.33,483.46 L303.40,483.30Z" fill="none" stroke="#858585" stroke-width="0.75"/>
<line x1="303.7" y1="508.9" x2="303.7" y2="533.3" stroke="#3a3a3a" stroke-width="0.85"/>
<circle cx="303.7" cy="521.1" r="0.9" fill="#000"/>
<clipPath id="cHBDn"><path d="M332.40,474.60 L332.51,474.65 L332.68,474.67 L332.87,474.71 L333.07,474.83 L333.25,475.08 L333.40,475.50 L333.49,476.15 L333.54,477.01 L333.57,478.00 L333.63,479.03 L333.72,480.02 L333.90,480.90 L334.13,481.66 L334.39,482.36 L334.69,483.02 L335.06,483.67 L335.52,484.33 L336.10,485.00 L336.86,485.69 L337.79,486.39 L338.81,487.09 L339.84,487.80 L340.80,488.50 L341.60,489.20 L342.25,489.88 L342.82,490.55 L343.31,491.22 L343.74,491.90 L344.10,492.62 L344.40,493.40 L344.65,494.22 L344.84,495.08 L344.96,495.97 L345.02,496.91 L345.00,497.88 L344.90,498.90 L344.69,499.98 L344.36,501.12 L343.96,502.31 L343.53,503.51 L343.09,504.72 L342.70,505.90 L342.33,507.08 L341.94,508.29 L341.56,509.49 L341.19,510.68 L340.87,511.82 L340.60,512.90 L340.38,513.89 L340.20,514.79 L340.06,515.65 L339.96,516.51 L339.90,517.41 L339.90,518.40 L339.98,519.50 L340.14,520.70 L340.36,521.94 L340.58,523.17 L340.77,524.34 L340.90,525.40 L341.06,526.39 L341.30,527.34 L341.51,528.24 L341.58,529.06 L341.42,529.75 L340.90,530.30 L339.85,530.67 L338.32,530.87 L336.55,530.96 L334.78,530.97 L333.25,530.97 L332.20,531.00 L331.60,531.00 L330.55,530.97 L329.02,530.97 L327.25,530.96 L325.48,530.87 L323.95,530.67 L322.90,530.30 L322.38,529.75 L322.22,529.06 L322.29,528.24 L322.50,527.34 L322.74,526.39 L322.90,525.40 L323.03,524.34 L323.22,523.17 L323.44,521.94 L323.66,520.70 L323.82,519.50 L323.90,518.40 L323.90,517.41 L323.84,516.51 L323.74,515.65 L323.60,514.79 L323.42,513.89 L323.20,512.90 L322.93,511.82 L322.61,510.68 L322.24,509.49 L321.86,508.29 L321.47,507.08 L321.10,505.90 L320.71,504.72 L320.27,503.51 L319.84,502.31 L319.44,501.12 L319.11,499.98 L318.90,498.90 L318.80,497.88 L318.78,496.91 L318.84,495.97 L318.96,495.08 L319.15,494.22 L319.40,493.40 L319.70,492.62 L320.06,491.90 L320.49,491.22 L320.98,490.55 L321.55,489.88 L322.20,489.20 L323.00,488.50 L323.96,487.80 L324.99,487.09 L326.01,486.39 L326.94,485.69 L327.70,485.00 L328.28,484.33 L328.74,483.67 L329.11,483.02 L329.41,482.36 L329.67,481.66 L329.90,480.90 L330.08,480.02 L330.17,479.03 L330.22,478.00 L330.26,477.01 L330.31,476.15 L330.40,475.50 L330.55,475.08 L330.73,474.83 L330.93,474.71 L331.12,474.67 L331.29,474.65 L331.40,474.60Z"/></clipPath>
<path d="M332.40,474.60 L332.51,474.65 L332.68,474.67 L332.87,474.71 L333.07,474.83 L333.25,475.08 L333.40,475.50 L333.49,476.15 L333.54,477.01 L333.57,478.00 L333.63,479.03 L333.72,480.02 L333.90,480.90 L334.13,481.66 L334.39,482.36 L334.69,483.02 L335.06,483.67 L335.52,484.33 L336.10,485.00 L336.86,485.69 L337.79,486.39 L338.81,487.09 L339.84,487.80 L340.80,488.50 L341.60,489.20 L342.25,489.88 L342.82,490.55 L343.31,491.22 L343.74,491.90 L344.10,492.62 L344.40,493.40 L344.65,494.22 L344.84,495.08 L344.96,495.97 L345.02,496.91 L345.00,497.88 L344.90,498.90 L344.69,499.98 L344.36,501.12 L343.96,502.31 L343.53,503.51 L343.09,504.72 L342.70,505.90 L342.33,507.08 L341.94,508.29 L341.56,509.49 L341.19,510.68 L340.87,511.82 L340.60,512.90 L340.38,513.89 L340.20,514.79 L340.06,515.65 L339.96,516.51 L339.90,517.41 L339.90,518.40 L339.98,519.50 L340.14,520.70 L340.36,521.94 L340.58,523.17 L340.77,524.34 L340.90,525.40 L341.06,526.39 L341.30,527.34 L341.51,528.24 L341.58,529.06 L341.42,529.75 L340.90,530.30 L339.85,530.67 L338.32,530.87 L336.55,530.96 L334.78,530.97 L333.25,530.97 L332.20,531.00 L331.60,531.00 L330.55,530.97 L329.02,530.97 L327.25,530.96 L325.48,530.87 L323.95,530.67 L322.90,530.30 L322.38,529.75 L322.22,529.06 L322.29,528.24 L322.50,527.34 L322.74,526.39 L322.90,525.40 L323.03,524.34 L323.22,523.17 L323.44,521.94 L323.66,520.70 L323.82,519.50 L323.90,518.40 L323.90,517.41 L323.84,516.51 L323.74,515.65 L323.60,514.79 L323.42,513.89 L323.20,512.90 L322.93,511.82 L322.61,510.68 L322.24,509.49 L321.86,508.29 L321.47,507.08 L321.10,505.90 L320.71,504.72 L320.27,503.51 L319.84,502.31 L319.44,501.12 L319.11,499.98 L318.90,498.90 L318.80,497.88 L318.78,496.91 L318.84,495.97 L318.96,495.08 L319.15,494.22 L319.40,493.40 L319.70,492.62 L320.06,491.90 L320.49,491.22 L320.98,490.55 L321.55,489.88 L322.20,489.20 L323.00,488.50 L323.96,487.80 L324.99,487.09 L326.01,486.39 L326.94,485.69 L327.70,485.00 L328.28,484.33 L328.74,483.67 L329.11,483.02 L329.41,482.36 L329.67,481.66 L329.90,480.90 L330.08,480.02 L330.17,479.03 L330.22,478.00 L330.26,477.01 L330.31,476.15 L330.40,475.50 L330.55,475.08 L330.73,474.83 L330.93,474.71 L331.12,474.67 L331.29,474.65 L331.40,474.60Z" fill="#f6fbf2"/>
<rect x="316.9" y="473.6" width="30" height="58.39999999999998" fill="url(#pn)" clip-path="url(#cHBDn)"/>
<path d="M332.40,474.60 L332.51,474.65 L332.68,474.67 L332.87,474.71 L333.07,474.83 L333.25,475.08 L333.40,475.50 L333.49,476.15 L333.54,477.01 L333.57,478.00 L333.63,479.03 L333.72,480.02 L333.90,480.90 L334.13,481.66 L334.39,482.36 L334.69,483.02 L335.06,483.67 L335.52,484.33 L336.10,485.00 L336.86,485.69 L337.79,486.39 L338.81,487.09 L339.84,487.80 L340.80,488.50 L341.60,489.20 L342.25,489.88 L342.82,490.55 L343.31,491.22 L343.74,491.90 L344.10,492.62 L344.40,493.40 L344.65,494.22 L344.84,495.08 L344.96,495.97 L345.02,496.91 L345.00,497.88 L344.90,498.90 L344.69,499.98 L344.36,501.12 L343.96,502.31 L343.53,503.51 L343.09,504.72 L342.70,505.90 L342.33,507.08 L341.94,508.29 L341.56,509.49 L341.19,510.68 L340.87,511.82 L340.60,512.90 L340.38,513.89 L340.20,514.79 L340.06,515.65 L339.96,516.51 L339.90,517.41 L339.90,518.40 L339.98,519.50 L340.14,520.70 L340.36,521.94 L340.58,523.17 L340.77,524.34 L340.90,525.40 L341.06,526.39 L341.30,527.34 L341.51,528.24 L341.58,529.06 L341.42,529.75 L340.90,530.30 L339.85,530.67 L338.32,530.87 L336.55,530.96 L334.78,530.97 L333.25,530.97 L332.20,531.00 L331.60,531.00 L330.55,530.97 L329.02,530.97 L327.25,530.96 L325.48,530.87 L323.95,530.67 L322.90,530.30 L322.38,529.75 L322.22,529.06 L322.29,528.24 L322.50,527.34 L322.74,526.39 L322.90,525.40 L323.03,524.34 L323.22,523.17 L323.44,521.94 L323.66,520.70 L323.82,519.50 L323.90,518.40 L323.90,517.41 L323.84,516.51 L323.74,515.65 L323.60,514.79 L323.42,513.89 L323.20,512.90 L322.93,511.82 L322.61,510.68 L322.24,509.49 L321.86,508.29 L321.47,507.08 L321.10,505.90 L320.71,504.72 L320.27,503.51 L319.84,502.31 L319.44,501.12 L319.11,499.98 L318.90,498.90 L318.80,497.88 L318.78,496.91 L318.84,495.97 L318.96,495.08 L319.15,494.22 L319.40,493.40 L319.70,492.62 L320.06,491.90 L320.49,491.22 L320.98,490.55 L321.55,489.88 L322.20,489.20 L323.00,488.50 L323.96,487.80 L324.99,487.09 L326.01,486.39 L326.94,485.69 L327.70,485.00 L328.28,484.33 L328.74,483.67 L329.11,483.02 L329.41,482.36 L329.67,481.66 L329.90,480.90 L330.08,480.02 L330.17,479.03 L330.22,478.00 L330.26,477.01 L330.31,476.15 L330.40,475.50 L330.55,475.08 L330.73,474.83 L330.93,474.71 L331.12,474.67 L331.29,474.65 L331.40,474.60Z" fill="none" stroke="#9aa394" stroke-width="0.75"/>
<line x1="331.9" y1="495.5" x2="331.9" y2="522.6" stroke="#3a3a3a" stroke-width="0.85"/>
<circle cx="331.9" cy="509.4" r="0.9" fill="#000"/>
<clipPath id="cHBBg"><path d="M381.30,479.40 L381.54,479.40 L381.88,479.38 L382.28,479.36 L382.70,479.37 L383.08,479.41 L383.40,479.50 L383.63,479.63 L383.79,479.77 L383.93,479.95 L384.07,480.19 L384.25,480.50 L384.50,480.90 L384.81,481.41 L385.16,482.01 L385.55,482.69 L385.97,483.42 L386.42,484.20 L386.90,485.00 L387.43,485.85 L388.01,486.76 L388.62,487.71 L389.24,488.68 L389.84,489.65 L390.40,490.60 L390.94,491.55 L391.49,492.52 L392.02,493.49 L392.50,494.44 L392.90,495.35 L393.20,496.20 L393.38,496.97 L393.46,497.67 L393.46,498.34 L393.41,498.98 L393.31,499.63 L393.20,500.30 L393.06,500.98 L392.87,501.64 L392.64,502.31 L392.38,502.99 L392.10,503.72 L391.80,504.50 L391.46,505.35 L391.07,506.26 L390.66,507.21 L390.26,508.18 L389.89,509.15 L389.60,510.10 L389.39,511.03 L389.24,511.97 L389.14,512.91 L389.04,513.84 L388.94,514.77 L388.80,515.70 L388.62,516.62 L388.41,517.54 L388.19,518.45 L387.98,519.36 L387.78,520.28 L387.60,521.20 L387.46,522.15 L387.36,523.14 L387.26,524.12 L387.17,525.09 L387.05,525.99 L386.90,526.80 L386.72,527.53 L386.53,528.22 L386.31,528.84 L386.07,529.40 L385.81,529.89 L385.50,530.30 L385.14,530.61 L384.72,530.82 L384.27,530.96 L383.81,531.05 L383.38,531.12 L383.00,531.20 L382.65,531.28 L382.31,531.33 L381.99,531.36 L381.71,531.37 L381.48,531.39 L381.30,531.40 L380.70,531.40 L380.52,531.39 L380.29,531.37 L380.01,531.36 L379.69,531.33 L379.35,531.28 L379.00,531.20 L378.62,531.12 L378.19,531.05 L377.73,530.96 L377.28,530.82 L376.86,530.61 L376.50,530.30 L376.19,529.89 L375.93,529.40 L375.69,528.84 L375.47,528.22 L375.28,527.53 L375.10,526.80 L374.95,525.99 L374.83,525.09 L374.74,524.12 L374.64,523.14 L374.54,522.15 L374.40,521.20 L374.22,520.28 L374.02,519.36 L373.81,518.45 L373.59,517.54 L373.38,516.62 L373.20,515.70 L373.06,514.77 L372.96,513.84 L372.86,512.91 L372.76,511.97 L372.61,511.03 L372.40,510.10 L372.11,509.15 L371.74,508.18 L371.34,507.21 L370.93,506.26 L370.54,505.35 L370.20,504.50 L369.90,503.72 L369.62,502.99 L369.36,502.31 L369.13,501.64 L368.94,500.98 L368.80,500.30 L368.69,499.63 L368.59,498.98 L368.54,498.34 L368.54,497.67 L368.62,496.97 L368.80,496.20 L369.10,495.35 L369.50,494.44 L369.98,493.49 L370.51,492.52 L371.06,491.55 L371.60,490.60 L372.16,489.65 L372.76,488.68 L373.38,487.71 L373.99,486.76 L374.57,485.85 L375.10,485.00 L375.58,484.20 L376.03,483.42 L376.45,482.69 L376.84,482.01 L377.19,481.41 L377.50,480.90 L377.75,480.50 L377.93,480.19 L378.07,479.95 L378.21,479.77 L378.37,479.63 L378.60,479.50 L378.92,479.41 L379.30,479.37 L379.72,479.36 L380.12,479.38 L380.46,479.40 L380.70,479.40Z"/></clipPath>
<path d="M381.30,479.40 L381.54,479.40 L381.88,479.38 L382.28,479.36 L382.70,479.37 L383.08,479.41 L383.40,479.50 L383.63,479.63 L383.79,479.77 L383.93,479.95 L384.07,480.19 L384.25,480.50 L384.50,480.90 L384.81,481.41 L385.16,482.01 L385.55,482.69 L385.97,483.42 L386.42,484.20 L386.90,485.00 L387.43,485.85 L388.01,486.76 L388.62,487.71 L389.24,488.68 L389.84,489.65 L390.40,490.60 L390.94,491.55 L391.49,492.52 L392.02,493.49 L392.50,494.44 L392.90,495.35 L393.20,496.20 L393.38,496.97 L393.46,497.67 L393.46,498.34 L393.41,498.98 L393.31,499.63 L393.20,500.30 L393.06,500.98 L392.87,501.64 L392.64,502.31 L392.38,502.99 L392.10,503.72 L391.80,504.50 L391.46,505.35 L391.07,506.26 L390.66,507.21 L390.26,508.18 L389.89,509.15 L389.60,510.10 L389.39,511.03 L389.24,511.97 L389.14,512.91 L389.04,513.84 L388.94,514.77 L388.80,515.70 L388.62,516.62 L388.41,517.54 L388.19,518.45 L387.98,519.36 L387.78,520.28 L387.60,521.20 L387.46,522.15 L387.36,523.14 L387.26,524.12 L387.17,525.09 L387.05,525.99 L386.90,526.80 L386.72,527.53 L386.53,528.22 L386.31,528.84 L386.07,529.40 L385.81,529.89 L385.50,530.30 L385.14,530.61 L384.72,530.82 L384.27,530.96 L383.81,531.05 L383.38,531.12 L383.00,531.20 L382.65,531.28 L382.31,531.33 L381.99,531.36 L381.71,531.37 L381.48,531.39 L381.30,531.40 L380.70,531.40 L380.52,531.39 L380.29,531.37 L380.01,531.36 L379.69,531.33 L379.35,531.28 L379.00,531.20 L378.62,531.12 L378.19,531.05 L377.73,530.96 L377.28,530.82 L376.86,530.61 L376.50,530.30 L376.19,529.89 L375.93,529.40 L375.69,528.84 L375.47,528.22 L375.28,527.53 L375.10,526.80 L374.95,525.99 L374.83,525.09 L374.74,524.12 L374.64,523.14 L374.54,522.15 L374.40,521.20 L374.22,520.28 L374.02,519.36 L373.81,518.45 L373.59,517.54 L373.38,516.62 L373.20,515.70 L373.06,514.77 L372.96,513.84 L372.86,512.91 L372.76,511.97 L372.61,511.03 L372.40,510.10 L372.11,509.15 L371.74,508.18 L371.34,507.21 L370.93,506.26 L370.54,505.35 L370.20,504.50 L369.90,503.72 L369.62,502.99 L369.36,502.31 L369.13,501.64 L368.94,500.98 L368.80,500.30 L368.69,499.63 L368.59,498.98 L368.54,498.34 L368.54,497.67 L368.62,496.97 L368.80,496.20 L369.10,495.35 L369.50,494.44 L369.98,493.49 L370.51,492.52 L371.06,491.55 L371.60,490.60 L372.16,489.65 L372.76,488.68 L373.38,487.71 L373.99,486.76 L374.57,485.85 L375.10,485.00 L375.58,484.20 L376.03,483.42 L376.45,482.69 L376.84,482.01 L377.19,481.41 L377.50,480.90 L377.75,480.50 L377.93,480.19 L378.07,479.95 L378.21,479.77 L378.37,479.63 L378.60,479.50 L378.92,479.41 L379.30,479.37 L379.72,479.36 L380.12,479.38 L380.46,479.40 L380.70,479.40Z" fill="#fff"/>
<rect x="366.0" y="478.4" width="30" height="54.0" fill="url(#pg)" clip-path="url(#cHBBg)"/>
<path d="M381.30,479.40 L381.54,479.40 L381.88,479.38 L382.28,479.36 L382.70,479.37 L383.08,479.41 L383.40,479.50 L383.63,479.63 L383.79,479.77 L383.93,479.95 L384.07,480.19 L384.25,480.50 L384.50,480.90 L384.81,481.41 L385.16,482.01 L385.55,482.69 L385.97,483.42 L386.42,484.20 L386.90,485.00 L387.43,485.85 L388.01,486.76 L388.62,487.71 L389.24,488.68 L389.84,489.65 L390.40,490.60 L390.94,491.55 L391.49,492.52 L392.02,493.49 L392.50,494.44 L392.90,495.35 L393.20,496.20 L393.38,496.97 L393.46,497.67 L393.46,498.34 L393.41,498.98 L393.31,499.63 L393.20,500.30 L393.06,500.98 L392.87,501.64 L392.64,502.31 L392.38,502.99 L392.10,503.72 L391.80,504.50 L391.46,505.35 L391.07,506.26 L390.66,507.21 L390.26,508.18 L389.89,509.15 L389.60,510.10 L389.39,511.03 L389.24,511.97 L389.14,512.91 L389.04,513.84 L388.94,514.77 L388.80,515.70 L388.62,516.62 L388.41,517.54 L388.19,518.45 L387.98,519.36 L387.78,520.28 L387.60,521.20 L387.46,522.15 L387.36,523.14 L387.26,524.12 L387.17,525.09 L387.05,525.99 L386.90,526.80 L386.72,527.53 L386.53,528.22 L386.31,528.84 L386.07,529.40 L385.81,529.89 L385.50,530.30 L385.14,530.61 L384.72,530.82 L384.27,530.96 L383.81,531.05 L383.38,531.12 L383.00,531.20 L382.65,531.28 L382.31,531.33 L381.99,531.36 L381.71,531.37 L381.48,531.39 L381.30,531.40 L380.70,531.40 L380.52,531.39 L380.29,531.37 L380.01,531.36 L379.69,531.33 L379.35,531.28 L379.00,531.20 L378.62,531.12 L378.19,531.05 L377.73,530.96 L377.28,530.82 L376.86,530.61 L376.50,530.30 L376.19,529.89 L375.93,529.40 L375.69,528.84 L375.47,528.22 L375.28,527.53 L375.10,526.80 L374.95,525.99 L374.83,525.09 L374.74,524.12 L374.64,523.14 L374.54,522.15 L374.40,521.20 L374.22,520.28 L374.02,519.36 L373.81,518.45 L373.59,517.54 L373.38,516.62 L373.20,515.70 L373.06,514.77 L372.96,513.84 L372.86,512.91 L372.76,511.97 L372.61,511.03 L372.40,510.10 L372.11,509.15 L371.74,508.18 L371.34,507.21 L370.93,506.26 L370.54,505.35 L370.20,504.50 L369.90,503.72 L369.62,502.99 L369.36,502.31 L369.13,501.64 L368.94,500.98 L368.80,500.30 L368.69,499.63 L368.59,498.98 L368.54,498.34 L368.54,497.67 L368.62,496.97 L368.80,496.20 L369.10,495.35 L369.50,494.44 L369.98,493.49 L370.51,492.52 L371.06,491.55 L371.60,490.60 L372.16,489.65 L372.76,488.68 L373.38,487.71 L373.99,486.76 L374.57,485.85 L375.10,485.00 L375.58,484.20 L376.03,483.42 L376.45,482.69 L376.84,482.01 L377.19,481.41 L377.50,480.90 L377.75,480.50 L377.93,480.19 L378.07,479.95 L378.21,479.77 L378.37,479.63 L378.60,479.50 L378.92,479.41 L379.30,479.37 L379.72,479.36 L380.12,479.38 L380.46,479.40 L380.70,479.40Z" fill="none" stroke="#858585" stroke-width="0.75"/>
<line x1="381.0" y1="493.4" x2="381.0" y2="519.1" stroke="#3a3a3a" stroke-width="0.85"/>
<circle cx="381.0" cy="505.9" r="0.9" fill="#000"/>
<clipPath id="cHBBn"><path d="M409.40,473.90 L409.50,473.95 L409.64,474.02 L409.80,474.11 L409.99,474.21 L410.19,474.34 L410.40,474.50 L410.64,474.66 L410.92,474.81 L411.22,474.98 L411.51,475.21 L411.78,475.54 L412.00,476.00 L412.12,476.64 L412.16,477.44 L412.17,478.33 L412.22,479.25 L412.37,480.13 L412.70,480.90 L413.23,481.53 L413.91,482.06 L414.71,482.56 L415.55,483.06 L416.40,483.62 L417.20,484.30 L418.05,485.11 L419.01,486.03 L419.98,487.01 L420.84,488.00 L421.48,488.98 L421.80,489.90 L421.75,490.77 L421.41,491.61 L420.86,492.44 L420.16,493.24 L419.38,494.03 L418.60,494.80 L417.72,495.56 L416.67,496.31 L415.55,497.04 L414.45,497.74 L413.47,498.39 L412.70,499.00 L412.18,499.54 L411.83,500.01 L411.59,500.44 L411.43,500.85 L411.28,501.26 L411.10,501.70 L410.90,502.16 L410.72,502.64 L410.56,503.11 L410.41,503.59 L410.26,504.05 L410.10,504.50 L409.93,504.68 L409.74,504.54 L409.56,504.39 L409.39,504.54 L409.25,505.31 L409.20,507.00 L409.20,510.11 L409.20,514.47 L409.20,519.46 L409.20,524.40 L409.20,528.67 L409.15,531.60 L408.65,531.60 L408.60,528.67 L408.60,524.40 L408.60,519.46 L408.60,514.47 L408.60,510.11 L408.60,507.00 L408.55,505.31 L408.41,504.54 L408.24,504.39 L408.06,504.54 L407.87,504.68 L407.70,504.50 L407.54,504.05 L407.39,503.59 L407.24,503.11 L407.08,502.64 L406.90,502.16 L406.70,501.70 L406.52,501.26 L406.37,500.85 L406.21,500.44 L405.97,500.01 L405.62,499.54 L405.10,499.00 L404.33,498.39 L403.35,497.74 L402.25,497.04 L401.13,496.31 L400.08,495.56 L399.20,494.80 L398.42,494.03 L397.64,493.24 L396.94,492.44 L396.39,491.61 L396.05,490.77 L396.00,489.90 L396.32,488.98 L396.96,488.00 L397.82,487.01 L398.79,486.03 L399.75,485.11 L400.60,484.30 L401.40,483.62 L402.25,483.06 L403.09,482.56 L403.89,482.06 L404.57,481.53 L405.10,480.90 L405.43,480.13 L405.58,479.25 L405.63,478.33 L405.64,477.44 L405.68,476.64 L405.80,476.00 L406.02,475.54 L406.29,475.21 L406.58,474.98 L406.88,474.81 L407.16,474.66 L407.40,474.50 L407.61,474.34 L407.81,474.21 L408.00,474.11 L408.16,474.02 L408.30,473.95 L408.40,473.90Z"/></clipPath>
<path d="M409.40,473.90 L409.50,473.95 L409.64,474.02 L409.80,474.11 L409.99,474.21 L410.19,474.34 L410.40,474.50 L410.64,474.66 L410.92,474.81 L411.22,474.98 L411.51,475.21 L411.78,475.54 L412.00,476.00 L412.12,476.64 L412.16,477.44 L412.17,478.33 L412.22,479.25 L412.37,480.13 L412.70,480.90 L413.23,481.53 L413.91,482.06 L414.71,482.56 L415.55,483.06 L416.40,483.62 L417.20,484.30 L418.05,485.11 L419.01,486.03 L419.98,487.01 L420.84,488.00 L421.48,488.98 L421.80,489.90 L421.75,490.77 L421.41,491.61 L420.86,492.44 L420.16,493.24 L419.38,494.03 L418.60,494.80 L417.72,495.56 L416.67,496.31 L415.55,497.04 L414.45,497.74 L413.47,498.39 L412.70,499.00 L412.18,499.54 L411.83,500.01 L411.59,500.44 L411.43,500.85 L411.28,501.26 L411.10,501.70 L410.90,502.16 L410.72,502.64 L410.56,503.11 L410.41,503.59 L410.26,504.05 L410.10,504.50 L409.93,504.68 L409.74,504.54 L409.56,504.39 L409.39,504.54 L409.25,505.31 L409.20,507.00 L409.20,510.11 L409.20,514.47 L409.20,519.46 L409.20,524.40 L409.20,528.67 L409.15,531.60 L408.65,531.60 L408.60,528.67 L408.60,524.40 L408.60,519.46 L408.60,514.47 L408.60,510.11 L408.60,507.00 L408.55,505.31 L408.41,504.54 L408.24,504.39 L408.06,504.54 L407.87,504.68 L407.70,504.50 L407.54,504.05 L407.39,503.59 L407.24,503.11 L407.08,502.64 L406.90,502.16 L406.70,501.70 L406.52,501.26 L406.37,500.85 L406.21,500.44 L405.97,500.01 L405.62,499.54 L405.10,499.00 L404.33,498.39 L403.35,497.74 L402.25,497.04 L401.13,496.31 L400.08,495.56 L399.20,494.80 L398.42,494.03 L397.64,493.24 L396.94,492.44 L396.39,491.61 L396.05,490.77 L396.00,489.90 L396.32,488.98 L396.96,488.00 L397.82,487.01 L398.79,486.03 L399.75,485.11 L400.60,484.30 L401.40,483.62 L402.25,483.06 L403.09,482.56 L403.89,482.06 L404.57,481.53 L405.10,480.90 L405.43,480.13 L405.58,479.25 L405.63,478.33 L405.64,477.44 L405.68,476.64 L405.80,476.00 L406.02,475.54 L406.29,475.21 L406.58,474.98 L406.88,474.81 L407.16,474.66 L407.40,474.50 L407.61,474.34 L407.81,474.21 L408.00,474.11 L408.16,474.02 L408.30,473.95 L408.40,473.90Z" fill="#f6fbf2"/>
<rect x="393.9" y="472.9" width="30" height="59.700000000000045" fill="url(#pn)" clip-path="url(#cHBBn)"/>
<path d="M409.40,473.90 L409.50,473.95 L409.64,474.02 L409.80,474.11 L409.99,474.21 L410.19,474.34 L410.40,474.50 L410.64,474.66 L410.92,474.81 L411.22,474.98 L411.51,475.21 L411.78,475.54 L412.00,476.00 L412.12,476.64 L412.16,477.44 L412.17,478.33 L412.22,479.25 L412.37,480.13 L412.70,480.90 L413.23,481.53 L413.91,482.06 L414.71,482.56 L415.55,483.06 L416.40,483.62 L417.20,484.30 L418.05,485.11 L419.01,486.03 L419.98,487.01 L420.84,488.00 L421.48,488.98 L421.80,489.90 L421.75,490.77 L421.41,491.61 L420.86,492.44 L420.16,493.24 L419.38,494.03 L418.60,494.80 L417.72,495.56 L416.67,496.31 L415.55,497.04 L414.45,497.74 L413.47,498.39 L412.70,499.00 L412.18,499.54 L411.83,500.01 L411.59,500.44 L411.43,500.85 L411.28,501.26 L411.10,501.70 L410.90,502.16 L410.72,502.64 L410.56,503.11 L410.41,503.59 L410.26,504.05 L410.10,504.50 L409.93,504.68 L409.74,504.54 L409.56,504.39 L409.39,504.54 L409.25,505.31 L409.20,507.00 L409.20,510.11 L409.20,514.47 L409.20,519.46 L409.20,524.40 L409.20,528.67 L409.15,531.60 L408.65,531.60 L408.60,528.67 L408.60,524.40 L408.60,519.46 L408.60,514.47 L408.60,510.11 L408.60,507.00 L408.55,505.31 L408.41,504.54 L408.24,504.39 L408.06,504.54 L407.87,504.68 L407.70,504.50 L407.54,504.05 L407.39,503.59 L407.24,503.11 L407.08,502.64 L406.90,502.16 L406.70,501.70 L406.52,501.26 L406.37,500.85 L406.21,500.44 L405.97,500.01 L405.62,499.54 L405.10,499.00 L404.33,498.39 L403.35,497.74 L402.25,497.04 L401.13,496.31 L400.08,495.56 L399.20,494.80 L398.42,494.03 L397.64,493.24 L396.94,492.44 L396.39,491.61 L396.05,490.77 L396.00,489.90 L396.32,488.98 L396.96,488.00 L397.82,487.01 L398.79,486.03 L399.75,485.11 L400.60,484.30 L401.40,483.62 L402.25,483.06 L403.09,482.56 L403.89,482.06 L404.57,481.53 L405.10,480.90 L405.43,480.13 L405.58,479.25 L405.63,478.33 L405.64,477.44 L405.68,476.64 L405.80,476.00 L406.02,475.54 L406.29,475.21 L406.58,474.98 L406.88,474.81 L407.16,474.66 L407.40,474.50 L407.61,474.34 L407.81,474.21 L408.00,474.11 L408.16,474.02 L408.30,473.95 L408.40,473.90Z" fill="none" stroke="#9aa394" stroke-width="0.75"/>
<line x1="408.9" y1="480.9" x2="408.9" y2="499" stroke="#3a3a3a" stroke-width="0.85"/>
<circle cx="408.9" cy="491.7" r="0.9" fill="#000"/>
<line x1="152" y1="364.9" x2="176.6" y2="364.9" stroke="#111" stroke-width="1.2"/>
<circle cx="164.30" cy="362.40" r="1.05" fill="#222"/>
<line x1="72.4" y1="464.8" x2="96.3" y2="464.8" stroke="#111" stroke-width="1.2"/>
<circle cx="82.92" cy="462.30" r="1.05" fill="#222"/>
<circle cx="85.77" cy="462.30" r="1.05" fill="#222"/>
<line x1="150.1" y1="464.8" x2="173.9" y2="464.8" stroke="#111" stroke-width="1.2"/>
<circle cx="160.57" cy="462.30" r="1.05" fill="#222"/>
<circle cx="163.43" cy="462.30" r="1.05" fill="#222"/>
<line x1="305.9" y1="465.9" x2="329.9" y2="465.9" stroke="#111" stroke-width="1.2"/>
<circle cx="315.05" cy="463.40" r="1.05" fill="#222"/>
<circle cx="317.90" cy="463.40" r="1.05" fill="#222"/>
<circle cx="320.75" cy="463.40" r="1.05" fill="#222"/>
<line x1="383.1" y1="465.3" x2="406.5" y2="465.3" stroke="#111" stroke-width="1.2"/>
<circle cx="391.95" cy="462.80" r="1.05" fill="#222"/>
<circle cx="394.80" cy="462.80" r="1.05" fill="#222"/>
<circle cx="397.65" cy="462.80" r="1.05" fill="#222"/>
<line x1="176.3" y1="364.6" x2="176.3" y2="368.5" stroke="#111" stroke-width="0.9"/>
</svg>
<div class="bd"></div>
</body></html>
